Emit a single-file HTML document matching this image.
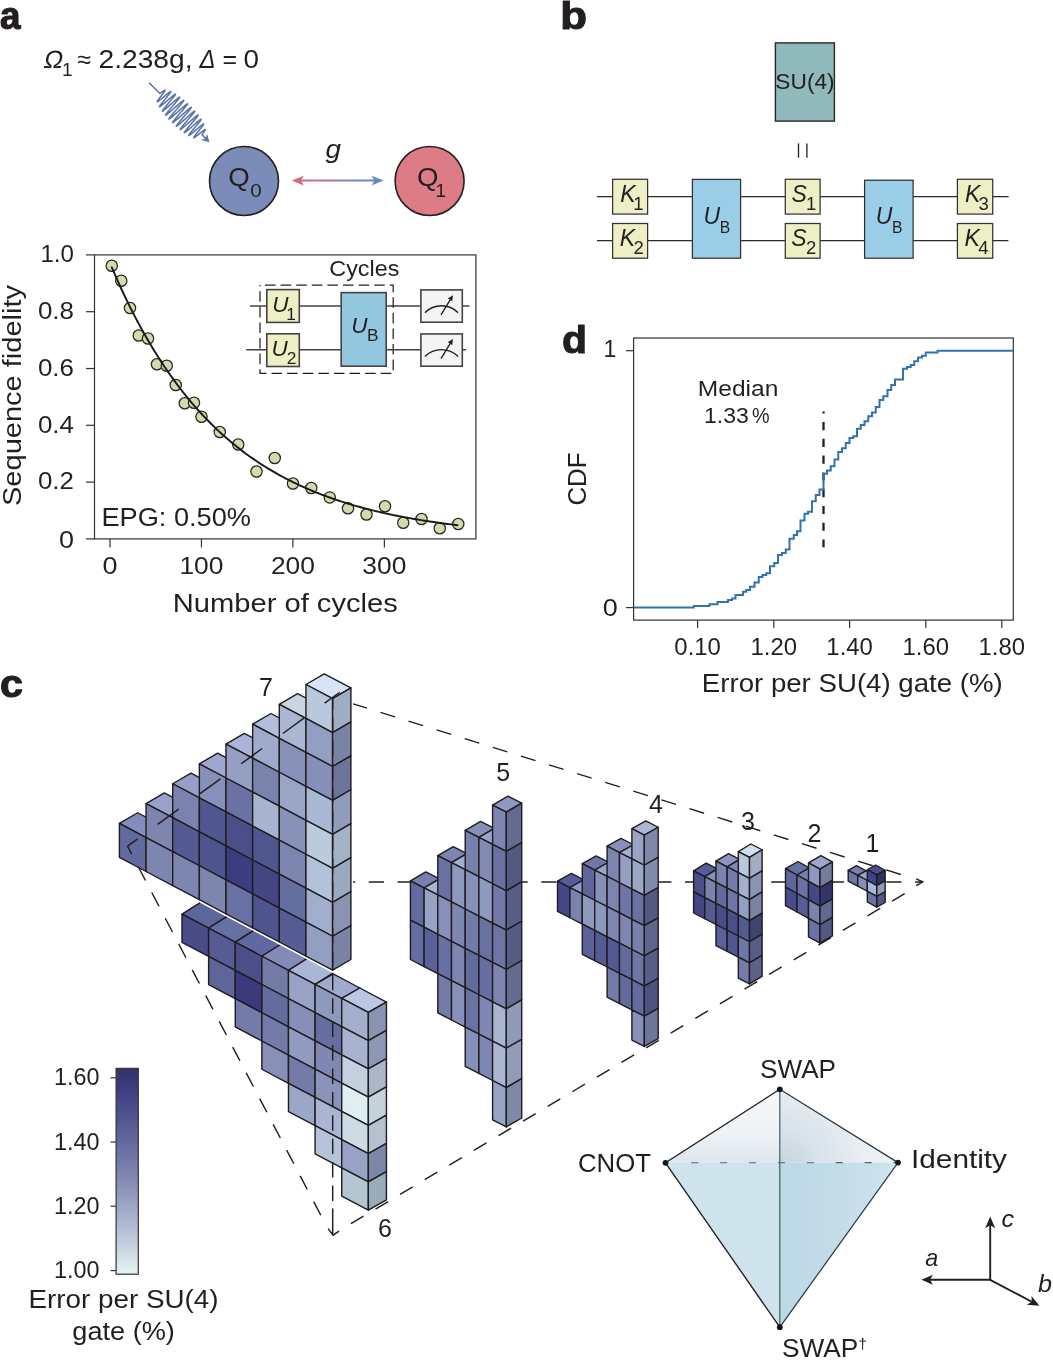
<!DOCTYPE html>
<html><head><meta charset="utf-8"><title>Figure</title>
<style>
html,body{margin:0;padding:0;background:#fff;}
body{width:1053px;height:1360px;overflow:hidden;font-family:"Liberation Sans", sans-serif;}
svg{display:block;font-family:"Liberation Sans", sans-serif;will-change:transform;}
text{fill:#231f20;}
</style></head><body>
<svg width="1053" height="1360" viewBox="0 0 1053 1360">
<defs>
<linearGradient id="garr" x1="292" y1="0" x2="383.5" y2="0" gradientUnits="userSpaceOnUse"><stop offset="0" stop-color="#dc6579"/><stop offset="0.3" stop-color="#c8718c"/><stop offset="0.55" stop-color="#8f7fad"/><stop offset="0.75" stop-color="#6f87bc"/><stop offset="1" stop-color="#6489c4"/></linearGradient>
<linearGradient id="cbar" x1="0" y1="1068" x2="0" y2="1274" gradientUnits="userSpaceOnUse"><stop offset="0" stop-color="#33336a"/><stop offset="0.07" stop-color="#38387c"/><stop offset="0.2" stop-color="#4a4e8e"/><stop offset="0.36" stop-color="#636a9f"/><stop offset="0.52" stop-color="#7f86b1"/><stop offset="0.67" stop-color="#9ca6c5"/><stop offset="0.83" stop-color="#bccada"/><stop offset="1" stop-color="#e4f4f3"/></linearGradient>
<linearGradient id="tu1" x1="0" y1="1089" x2="0" y2="1163" gradientUnits="userSpaceOnUse"><stop offset="0" stop-color="#f7f9fa"/><stop offset="0.6" stop-color="#eef2f5"/><stop offset="1" stop-color="#dce6ec"/></linearGradient>
<radialGradient id="tu2" cx="783" cy="1166" r="95" gradientUnits="userSpaceOnUse"><stop offset="0" stop-color="#c6d5df"/><stop offset="0.35" stop-color="#d6e1e9"/><stop offset="0.7" stop-color="#e4ebf0"/><stop offset="1" stop-color="#ecf1f4"/></radialGradient>
<linearGradient id="tl2" x1="779.8" y1="0" x2="898" y2="0" gradientUnits="userSpaceOnUse"><stop offset="0" stop-color="#bcd9e6"/><stop offset="0.45" stop-color="#c2dce8"/><stop offset="1" stop-color="#cfe4ee"/></linearGradient>
</defs>
<text x="0" y="29" font-size="38.5" font-weight="bold" stroke="#231f20" stroke-width="1.1" stroke-linejoin="round" textLength="20.5" lengthAdjust="spacingAndGlyphs">a</text>
<text x="0" y="0" font-size="25" textLength="19" lengthAdjust="spacingAndGlyphs" transform="translate(42.8 67.5) skewX(-11)">&#937;</text>
<text y="67.5" font-size="25"><tspan x="62" dy="8.5" font-size="19">1</tspan><tspan x="77.3" dy="-8.5">&#8776;</tspan><tspan x="98.5" textLength="94" lengthAdjust="spacingAndGlyphs">2.238g,</tspan><tspan x="199.5" font-style="italic" textLength="16" lengthAdjust="spacingAndGlyphs">&#916;</tspan><tspan x="222.5">=</tspan><tspan x="243.5" textLength="15.5" lengthAdjust="spacingAndGlyphs">0</tspan></text>
<polyline points="149.5,83.2 149.56,83.26 149.63,83.32 149.69,83.38 149.75,83.45 149.81,83.51 149.88,83.57 149.94,83.63 150,83.69 150.06,83.75 150.13,83.82 150.19,83.88 150.25,83.94 150.32,84 150.38,84.06 150.44,84.12 150.5,84.19 150.57,84.25 150.63,84.31 150.69,84.37 150.75,84.43 150.82,84.49 150.88,84.56 150.94,84.62 151,84.68 151.07,84.74 151.13,84.8 151.19,84.86 151.26,84.93 151.32,84.99 151.38,85.05 151.44,85.11 151.51,85.17 151.57,85.23 151.63,85.3 151.69,85.36 151.76,85.42 151.82,85.48 151.88,85.54 151.95,85.6 152.01,85.67 152.07,85.73 152.13,85.79 152.2,85.85 152.26,85.91 152.32,85.97 152.38,86.04 152.45,86.1 152.51,86.16 152.57,86.22 152.64,86.28 152.7,86.34 152.76,86.41 152.82,86.47 152.89,86.53 152.95,86.59 153.01,86.65 153.07,86.71 153.14,86.78 153.2,86.84 153.26,86.9 153.33,86.96 153.39,87.02 153.45,87.08 153.51,87.15 153.58,87.21 153.64,87.27 153.7,87.33 153.76,87.39 153.83,87.45 153.89,87.52 153.95,87.58 154.01,87.64 154.08,87.7 154.14,87.76 154.2,87.82 154.27,87.89 154.33,87.95 154.39,88.01 154.45,88.07 154.52,88.13 154.58,88.19 154.64,88.26 154.7,88.32 154.77,88.38 154.83,88.44 154.89,88.5 154.96,88.56 155.02,88.63 155.08,88.69 155.14,88.75 155.21,88.81 155.27,88.87 155.33,88.93 155.39,89 155.46,89.06 155.52,89.12 155.58,89.18 155.65,89.24 155.71,89.3 155.77,89.37 155.83,89.43 155.9,89.49 155.96,89.55 156.02,89.61 156.08,89.67 156.15,89.74 156.21,89.8 156.27,89.86 156.33,89.92 156.4,89.98 156.46,90.04 156.52,90.11 156.59,90.17 156.65,90.23 156.71,90.29 156.77,90.35 156.84,90.41 156.9,90.48 156.96,90.54 157.02,90.6 157.09,90.66 157.15,90.72 157.21,90.78 157.28,90.85 157.34,90.91 157.4,90.97 157.46,91.03 157.53,91.09 157.59,91.15 157.65,91.22 157.71,91.28 157.78,91.34 157.84,91.4 157.9,91.46 157.97,91.52 158.03,91.59 158.09,91.65 158.15,91.71 158.22,91.77 158.28,91.83 158.34,91.89 158.4,91.96 158.47,92.02 158.53,92.08 158.59,92.14 158.65,92.2 158.72,92.26 158.78,92.33 158.84,92.39 158.91,92.45 158.97,92.51 159.03,92.57 159.09,92.63 159.16,92.7 159.22,92.76 159.28,92.82 159.34,92.88 159.41,92.94 159.47,93 159.53,93.07 159.6,93.13 159.66,93.19 159.72,93.25 159.78,93.31 159.85,93.37 159.91,93.44 160.18,93.28 160.54,93.04 160.94,92.76 161.36,92.46 161.79,92.15 162.22,91.83 162.65,91.53 163.06,91.24 163.44,90.97 163.8,90.74 164.12,90.53 164.41,90.37 164.65,90.25 164.84,90.18 164.98,90.16 165.08,90.19 165.12,90.27 165.1,90.42 165.03,90.61 164.9,90.86 164.73,91.17 164.5,91.52 164.23,91.93 163.91,92.38 163.56,92.86 163.16,93.39 162.74,93.94 162.3,94.52 161.84,95.11 161.37,95.72 160.89,96.33 160.41,96.94 159.95,97.53 159.5,98.12 159.07,98.68 158.67,99.21 158.31,99.71 157.98,100.16 157.7,100.57 157.48,100.93 157.3,101.23 157.19,101.47 157.13,101.65 157.14,101.77 157.22,101.82 157.36,101.8 157.56,101.72 157.83,101.57 158.16,101.36 158.55,101.09 159,100.76 159.5,100.38 160.04,99.95 160.63,99.47 161.26,98.96 161.91,98.42 162.59,97.86 163.29,97.27 163.99,96.68 164.7,96.09 165.4,95.51 166.08,94.94 166.74,94.39 167.38,93.87 167.98,93.38 168.53,92.94 169.04,92.55 169.5,92.22 169.89,91.94 170.22,91.73 170.49,91.59 170.68,91.51 170.8,91.52 170.85,91.59 170.82,91.74 170.73,91.97 170.56,92.27 170.32,92.64 170.01,93.07 169.64,93.57 169.22,94.13 168.74,94.74 168.21,95.4 167.65,96.1 167.05,96.84 166.43,97.59 165.79,98.37 165.14,99.15 164.49,99.94 163.85,100.72 163.22,101.48 162.62,102.22 162.05,102.92 161.52,103.59 161.04,104.21 160.61,104.77 160.23,105.27 159.93,105.71 159.69,106.08 159.53,106.37 159.44,106.58 159.43,106.72 159.5,106.77 159.65,106.74 159.88,106.63 160.19,106.45 160.57,106.18 161.03,105.85 161.55,105.44 162.13,104.97 162.77,104.45 163.46,103.87 164.2,103.25 164.97,102.59 165.76,101.9 166.58,101.2 167.41,100.49 168.23,99.77 169.05,99.06 169.86,98.37 170.64,97.7 171.38,97.07 172.08,96.48 172.74,95.94 173.33,95.46 173.87,95.04 174.33,94.7 174.73,94.42 175.04,94.23 175.27,94.12 175.42,94.09 175.49,94.15 175.47,94.29 175.37,94.52 175.18,94.84 174.92,95.23 174.58,95.7 174.16,96.25 173.68,96.86 173.14,97.54 172.55,98.27 171.91,99.04 171.23,99.86 170.52,100.71 169.79,101.57 169.05,102.45 168.31,103.33 167.57,104.21 166.85,105.07 166.16,105.9 165.5,106.69 164.88,107.45 164.31,108.15 163.81,108.79 163.36,109.36 162.99,109.87 162.7,110.29 162.48,110.64 162.35,110.89 162.31,111.06 162.36,111.14 162.49,111.13 162.71,111.03 163.02,110.84 163.41,110.57 163.89,110.21 164.43,109.78 165.05,109.28 165.73,108.71 166.47,108.08 167.26,107.41 168.09,106.69 168.95,105.94 169.84,105.16 170.74,104.38 171.64,103.58 172.53,102.8 173.41,102.03 174.27,101.29 175.09,100.58 175.86,99.92 176.59,99.3 177.25,98.75 177.85,98.27 178.37,97.86 178.82,97.53 179.18,97.29 179.46,97.13 179.65,97.07 179.74,97.1 179.75,97.22 179.66,97.43 179.48,97.74 179.22,98.13 178.87,98.61 178.45,99.17 177.95,99.8 177.38,100.5 176.75,101.27 176.07,102.08 175.35,102.94 174.6,103.84 173.82,104.76 173.02,105.69 172.22,106.63 171.42,107.57 170.64,108.49 169.88,109.38 169.16,110.24 168.48,111.06 167.85,111.82 167.28,112.53 166.78,113.16 166.36,113.72 166.01,114.2 165.75,114.59 165.58,114.89 165.5,115.1 165.51,115.21 165.62,115.22 165.82,115.15 166.11,114.97 166.49,114.71 166.96,114.36 167.51,113.92 168.14,113.41 168.84,112.83 169.59,112.18 170.41,111.48 171.27,110.73 172.16,109.95 173.08,109.14 174.02,108.31 174.97,107.47 175.91,106.64 176.84,105.82 177.75,105.02 178.62,104.26 179.45,103.54 180.23,102.88 180.94,102.27 181.59,101.74 182.17,101.28 182.66,100.9 183.07,100.61 183.39,100.41 183.62,100.31 183.75,100.3 183.78,100.39 183.72,100.58 183.56,100.86 183.32,101.24 182.98,101.71 182.56,102.26 182.06,102.89 181.49,103.6 180.86,104.37 180.17,105.2 179.43,106.07 178.65,106.99 177.84,107.94 177.02,108.9 176.18,109.88 175.35,110.85 174.53,111.81 173.73,112.75 172.96,113.65 172.24,114.51 171.57,115.32 170.95,116.07 170.41,116.75 169.94,117.36 169.55,117.88 169.24,118.31 169.03,118.65 168.91,118.9 168.89,119.05 168.96,119.1 169.13,119.05 169.4,118.9 169.76,118.66 170.21,118.33 170.75,117.91 171.36,117.41 172.06,116.83 172.81,116.19 173.63,115.48 174.49,114.73 175.4,113.93 176.34,113.1 177.3,112.25 178.27,111.39 179.23,110.53 180.19,109.68 181.13,108.86 182.04,108.06 182.9,107.31 183.72,106.6 184.47,105.96 185.16,105.38 185.78,104.88 186.31,104.47 186.76,104.14 187.11,103.9 187.38,103.76 187.54,103.71 187.61,103.77 187.58,103.92 187.46,104.18 187.24,104.53 186.92,104.97 186.52,105.5 186.04,106.12 185.49,106.81 184.86,107.57 184.18,108.39 183.44,109.27 182.66,110.18 181.85,111.14 181.01,112.11 180.17,113.1 179.32,114.09 178.48,115.07 177.66,116.02 176.87,116.95 176.12,117.84 175.41,118.68 174.77,119.46 174.19,120.18 173.69,120.82 173.26,121.37 172.92,121.85 172.67,122.22 172.52,122.51 172.46,122.69 172.5,122.78 172.64,122.76 172.87,122.65 173.2,122.44 173.62,122.14 174.13,121.74 174.73,121.26 175.4,120.71 176.14,120.08 176.94,119.39 177.79,118.65 178.69,117.86 179.62,117.04 180.58,116.19 181.55,115.33 182.53,114.46 183.49,113.6 184.44,112.76 185.36,111.95 186.25,111.18 187.08,110.45 187.86,109.78 188.58,109.18 189.22,108.65 189.79,108.21 190.27,107.84 190.66,107.57 190.95,107.39 191.16,107.32 191.26,107.34 191.26,107.46 191.17,107.67 190.99,107.99 190.71,108.4 190.34,108.9 189.89,109.48 189.36,110.15 188.76,110.88 188.09,111.68 187.38,112.54 186.62,113.44 185.82,114.38 184.99,115.34 184.15,116.32 183.31,117.3 182.47,118.28 181.65,119.24 180.85,120.18 180.09,121.08 179.37,121.93 178.71,122.73 178.11,123.46 177.59,124.13 177.14,124.71 176.77,125.21 176.49,125.62 176.3,125.93 176.21,126.15 176.22,126.27 176.32,126.29 176.52,126.21 176.81,126.04 177.2,125.77 177.67,125.42 178.23,124.97 178.87,124.45 179.58,123.86 180.35,123.2 181.17,122.49 182.05,121.72 182.95,120.92 183.89,120.1 184.85,119.25 185.81,118.4 186.76,117.55 187.71,116.72 188.62,115.91 189.51,115.14 190.35,114.41 191.14,113.73 191.87,113.12 192.52,112.57 193.11,112.1 193.61,111.72 194.02,111.42 194.35,111.22 194.58,111.11 194.72,111.09 194.76,111.18 194.7,111.36 194.55,111.64 194.31,112.01 193.99,112.46 193.57,113.01 193.08,113.63 192.52,114.33 191.9,115.09 191.22,115.91 190.49,116.77 189.73,117.68 188.93,118.61 188.12,119.56 187.3,120.52 186.48,121.48 185.67,122.42 184.89,123.35 184.14,124.24 183.43,125.08 182.77,125.88 182.17,126.62 181.63,127.29 181.17,127.88 180.79,128.4 180.49,128.83 180.28,129.17 180.16,129.41 180.13,129.57 180.2,129.62 180.36,129.58 180.61,129.45 180.96,129.22 181.39,128.91 181.9,128.51 182.5,128.04 183.16,127.49 183.88,126.88 184.66,126.21 185.49,125.49 186.36,124.73 187.26,123.95 188.17,123.14 189.1,122.33 190.03,121.51 190.94,120.7 191.83,119.92 192.7,119.17 193.52,118.45 194.3,117.79 195.02,117.18 195.68,116.64 196.27,116.16 196.78,115.77 197.21,115.46 197.55,115.23 197.81,115.1 197.97,115.06 198.05,115.11 198.03,115.25 197.92,115.49 197.72,115.81 197.44,116.22 197.08,116.72 196.64,117.29 196.13,117.93 195.56,118.64 194.93,119.4 194.26,120.22 193.54,121.07 192.8,121.95 192.04,122.85 191.26,123.76 190.49,124.68 189.72,125.58 188.97,126.47 188.25,127.33 187.57,128.15 186.93,128.92 186.35,129.64 185.82,130.3 185.36,130.89 184.98,131.41 184.68,131.84 184.45,132.19 184.31,132.46 184.26,132.64 184.3,132.72 184.43,132.72 184.64,132.63 184.94,132.45 185.32,132.19 185.78,131.84 186.32,131.43 186.92,130.94 187.59,130.39 188.31,129.78 189.07,129.13 189.88,128.43 190.71,127.71 191.56,126.97 192.43,126.21 193.3,125.45 194.16,124.7 195.01,123.97 195.83,123.26 196.61,122.59 197.35,121.96 198.05,121.38 198.68,120.86 199.25,120.4 199.75,120.02 200.18,119.71 200.53,119.48 200.8,119.33 200.98,119.27 201.08,119.3 201.1,119.41 201.03,119.6 200.88,119.88 200.65,120.24 200.34,120.68 199.97,121.18 199.52,121.76 199.02,122.4 198.47,123.09 197.87,123.82 197.23,124.6 196.56,125.4 195.87,126.22 195.17,127.06 194.47,127.9 193.77,128.73 193.09,129.55 192.43,130.35 191.81,131.11 191.22,131.83 190.68,132.51 190.19,133.13 189.77,133.69 189.4,134.18 189.11,134.6 188.9,134.95 188.75,135.22 188.69,135.41 188.71,135.52 188.8,135.54 188.98,135.49 189.23,135.36 189.56,135.15 189.96,134.87 190.43,134.52 190.96,134.11 191.54,133.64 192.17,133.12 192.85,132.56 193.57,131.96 194.31,131.33 195.07,130.68 195.84,130.02 196.61,129.36 197.38,128.7 198.14,128.06 198.88,127.43 199.58,126.84 200.25,126.28 200.88,125.77 201.46,125.31 201.98,124.91 202.44,124.56 202.84,124.28 203.17,124.07 203.43,123.94 203.61,123.87 203.72,123.89 203.76,123.97 203.73,124.13 203.62,124.36 203.45,124.67 203.21,125.04 202.91,125.47 202.55,125.96 202.14,126.5 201.69,127.08 201.2,127.71 200.67,128.37 200.12,129.05 199.55,129.76 198.97,130.47 198.39,131.19 197.82,131.9 197.26,132.59 196.72,133.27 196.2,133.92 195.72,134.53 195.28,135.11 194.88,135.64 194.53,136.12 194.24,136.54 194.01,136.9 193.83,137.2 193.72,137.44 193.68,137.61 193.7,137.72 193.78,137.76 193.93,137.73 194.14,137.64 194.42,137.49 194.74,137.28 195.12,137.02 195.55,136.71 196.02,136.36 196.53,135.96 197.07,135.54 197.64,135.09 198.22,134.62 198.82,134.14 199.42,133.65 200.02,133.17 200.62,132.69 201.19,132.23 201.75,131.78 202.28,131.37 202.78,130.99 203.24,130.64 203.66,130.34 204.04,130.09 204.36,129.88 204.64,129.73 204.86,129.63 205.03,129.58 205.14,129.59 205.2,129.66 205.21,129.78 205.16,129.95 205.07,130.17 204.93,130.44 204.75,130.75 204.53,131.09 204.28,131.47 204.01,131.87 203.72,132.29 203.42,132.72 203.11,133.16 202.81,133.59 202.52,134.01 202.27,134.4 202.06,134.73 202.05,134.87 202.11,134.93 202.17,134.99 202.24,135.06 202.3,135.12 202.36,135.18 202.42,135.24 202.49,135.3 202.55,135.36 202.61,135.43 202.67,135.49 202.74,135.55 202.8,135.61 202.86,135.67 202.93,135.73 202.99,135.8 203.05,135.86 203.11,135.92 203.18,135.98 203.24,136.04 203.3,136.1 203.36,136.17 203.43,136.23 203.49,136.29 203.55,136.35 203.61,136.41 203.68,136.47 203.74,136.54 203.8,136.6 203.87,136.66 203.93,136.72 203.99,136.78 204.05,136.84 204.12,136.91 204.18,136.97 204.24,137.03 204.3,137.09 204.37,137.15 204.43,137.21 204.49,137.28 204.56,137.34 204.62,137.4 204.68,137.46 204.74,137.52 204.81,137.58 204.87,137.65 204.93,137.71 204.99,137.77 205.06,137.83 205.12,137.89 205.18,137.95 205.25,138.02 205.31,138.08 205.37,138.14 205.43,138.2 205.5,138.26 205.56,138.32 205.62,138.39 205.68,138.45 205.75,138.51 205.81,138.57 205.87,138.63 205.93,138.69" fill="none" stroke="#5a73a8" stroke-width="1.5" stroke-linejoin="round" stroke-linecap="round"/>
<polygon points="209.5,142.2 201.21,139.94 205.58,138.34 207.1,133.95" fill="#5a73a8"/>
<circle cx="244" cy="181" r="34.5" fill="#7b8cb8" stroke="#231f20" stroke-width="1.6"/>
<circle cx="429.6" cy="181" r="34.5" fill="#dd7b86" stroke="#231f20" stroke-width="1.6"/>
<text y="186.3" font-size="25"><tspan x="228.3" textLength="21.5" lengthAdjust="spacingAndGlyphs">Q</tspan><tspan x="250.3" dy="10.2" font-size="19" textLength="11.5" lengthAdjust="spacingAndGlyphs">0</tspan></text>
<text y="186.3" font-size="25"><tspan x="417" textLength="21.5" lengthAdjust="spacingAndGlyphs">Q</tspan><tspan x="435.6" dy="10.2" font-size="19">1</tspan></text>
<path d="M291.8 180.6 L303.8 175.8 L301.6 179.6 L373.8 179.6 L371.6 175.8 L383.6 180.6 L371.6 185.4 L373.8 181.6 L301.6 181.6 L303.8 185.4 Z" fill="url(#garr)"/>
<text x="325.6" y="158.2" font-size="25" textLength="15.5" lengthAdjust="spacingAndGlyphs" font-style="italic">g</text>
<rect x="94.5" y="254.9" width="381.4" height="284" fill="none" stroke="#333" stroke-width="1.2"/>
<line x1="86" y1="538.9" x2="94.5" y2="538.9" stroke="#333" stroke-width="1.2"/>
<text x="74" y="548" font-size="23" text-anchor="end" textLength="15" lengthAdjust="spacingAndGlyphs">0</text>
<line x1="86" y1="482.1" x2="94.5" y2="482.1" stroke="#333" stroke-width="1.2"/>
<text x="73.9" y="489.4" font-size="23" text-anchor="end" textLength="36" lengthAdjust="spacingAndGlyphs">0.2</text>
<line x1="86" y1="425.3" x2="94.5" y2="425.3" stroke="#333" stroke-width="1.2"/>
<text x="73.9" y="432.6" font-size="23" text-anchor="end" textLength="36" lengthAdjust="spacingAndGlyphs">0.4</text>
<line x1="86" y1="368.5" x2="94.5" y2="368.5" stroke="#333" stroke-width="1.2"/>
<text x="73.9" y="375.8" font-size="23" text-anchor="end" textLength="36" lengthAdjust="spacingAndGlyphs">0.6</text>
<line x1="86" y1="311.7" x2="94.5" y2="311.7" stroke="#333" stroke-width="1.2"/>
<text x="73.9" y="319" font-size="23" text-anchor="end" textLength="36" lengthAdjust="spacingAndGlyphs">0.8</text>
<line x1="86" y1="254.9" x2="94.5" y2="254.9" stroke="#333" stroke-width="1.2"/>
<text x="73.9" y="262.2" font-size="23" text-anchor="end" textLength="33.5" lengthAdjust="spacingAndGlyphs">1.0</text>
<line x1="110" y1="538.9" x2="110" y2="547.4" stroke="#333" stroke-width="1.2"/>
<text x="110" y="574.1" font-size="23" text-anchor="middle" textLength="15" lengthAdjust="spacingAndGlyphs">0</text>
<line x1="201.45" y1="538.9" x2="201.45" y2="547.4" stroke="#333" stroke-width="1.2"/>
<text x="201.45" y="574.1" font-size="23" text-anchor="middle" textLength="44" lengthAdjust="spacingAndGlyphs">100</text>
<line x1="292.9" y1="538.9" x2="292.9" y2="547.4" stroke="#333" stroke-width="1.2"/>
<text x="292.9" y="574.1" font-size="23" text-anchor="middle" textLength="44" lengthAdjust="spacingAndGlyphs">200</text>
<line x1="384.35" y1="538.9" x2="384.35" y2="547.4" stroke="#333" stroke-width="1.2"/>
<text x="384.35" y="574.1" font-size="23" text-anchor="middle" textLength="44" lengthAdjust="spacingAndGlyphs">300</text>
<text x="21" y="395.5" font-size="25" text-anchor="middle" textLength="221" lengthAdjust="spacingAndGlyphs" transform="rotate(-90 21 395.5)">Sequence fidelity</text>
<text x="285.3" y="612.3" font-size="25" text-anchor="middle" textLength="225" lengthAdjust="spacingAndGlyphs">Number of cycles</text>
<text x="101.5" y="526" font-size="25" textLength="149.5" lengthAdjust="spacingAndGlyphs">EPG: 0.50%</text>
<circle cx="111.75" cy="265.75" r="5.65" fill="#d6d8ad" stroke="#2a271f" stroke-width="1.25"/>
<circle cx="121.25" cy="280.75" r="5.65" fill="#d6d8ad" stroke="#2a271f" stroke-width="1.25"/>
<circle cx="130" cy="308" r="5.65" fill="#d6d8ad" stroke="#2a271f" stroke-width="1.25"/>
<circle cx="138.75" cy="335.5" r="5.65" fill="#d6d8ad" stroke="#2a271f" stroke-width="1.25"/>
<circle cx="148" cy="338.5" r="5.65" fill="#d6d8ad" stroke="#2a271f" stroke-width="1.25"/>
<circle cx="157" cy="364.25" r="5.65" fill="#d6d8ad" stroke="#2a271f" stroke-width="1.25"/>
<circle cx="166.75" cy="365.75" r="5.65" fill="#d6d8ad" stroke="#2a271f" stroke-width="1.25"/>
<circle cx="175.75" cy="385" r="5.65" fill="#d6d8ad" stroke="#2a271f" stroke-width="1.25"/>
<circle cx="184.75" cy="403.25" r="5.65" fill="#d6d8ad" stroke="#2a271f" stroke-width="1.25"/>
<circle cx="194" cy="402.75" r="5.65" fill="#d6d8ad" stroke="#2a271f" stroke-width="1.25"/>
<circle cx="201.5" cy="416.75" r="5.65" fill="#d6d8ad" stroke="#2a271f" stroke-width="1.25"/>
<circle cx="219.75" cy="432" r="5.65" fill="#d6d8ad" stroke="#2a271f" stroke-width="1.25"/>
<circle cx="238.25" cy="444.5" r="5.65" fill="#d6d8ad" stroke="#2a271f" stroke-width="1.25"/>
<circle cx="256.5" cy="471.5" r="5.65" fill="#d6d8ad" stroke="#2a271f" stroke-width="1.25"/>
<circle cx="274.75" cy="458" r="5.65" fill="#d6d8ad" stroke="#2a271f" stroke-width="1.25"/>
<circle cx="293" cy="483.5" r="5.65" fill="#d6d8ad" stroke="#2a271f" stroke-width="1.25"/>
<circle cx="311.25" cy="488" r="5.65" fill="#d6d8ad" stroke="#2a271f" stroke-width="1.25"/>
<circle cx="329.75" cy="497.4" r="5.65" fill="#d6d8ad" stroke="#2a271f" stroke-width="1.25"/>
<circle cx="348" cy="508.25" r="5.65" fill="#d6d8ad" stroke="#2a271f" stroke-width="1.25"/>
<circle cx="366.5" cy="514.5" r="5.65" fill="#d6d8ad" stroke="#2a271f" stroke-width="1.25"/>
<circle cx="385" cy="506.25" r="5.65" fill="#d6d8ad" stroke="#2a271f" stroke-width="1.25"/>
<circle cx="403.25" cy="522.75" r="5.65" fill="#d6d8ad" stroke="#2a271f" stroke-width="1.25"/>
<circle cx="421.5" cy="519" r="5.65" fill="#d6d8ad" stroke="#2a271f" stroke-width="1.25"/>
<circle cx="439.75" cy="528.25" r="5.65" fill="#d6d8ad" stroke="#2a271f" stroke-width="1.25"/>
<circle cx="458.25" cy="524" r="5.65" fill="#d6d8ad" stroke="#2a271f" stroke-width="1.25"/>
<polyline points="111.83,267.46 113.56,271.48 115.29,275.44 117.01,279.35 118.74,283.2 120.47,286.99 122.2,290.72 123.93,294.4 125.66,298.02 127.38,301.59 129.11,305.11 130.84,308.57 132.57,311.99 134.3,315.35 136.03,318.66 137.76,321.93 139.48,325.14 141.21,328.31 142.94,331.43 144.67,334.5 146.4,337.53 148.13,340.52 149.85,343.46 151.58,346.35 153.31,349.21 155.04,352.02 156.77,354.79 158.5,357.52 160.22,360.21 161.95,362.85 163.68,365.46 165.41,368.03 167.14,370.57 168.87,373.06 170.59,375.52 172.32,377.94 174.05,380.32 175.78,382.67 177.51,384.99 179.24,387.27 180.97,389.52 182.69,391.73 184.42,393.91 186.15,396.06 187.88,398.18 189.61,400.26 191.34,402.32 193.06,404.34 194.79,406.34 196.52,408.3 198.25,410.24 199.98,412.14 201.71,414.02 203.43,415.87 205.16,417.7 206.89,419.49 208.62,421.26 210.35,423.01 212.08,424.72 213.8,426.42 215.53,428.08 217.26,429.72 218.99,431.34 220.72,432.94 222.45,434.51 224.18,436.05 225.9,437.58 227.63,439.08 229.36,440.56 231.09,442.02 232.82,443.45 234.55,444.87 236.27,446.26 238,447.63 239.73,448.99 241.46,450.32 243.19,451.63 244.92,452.92 246.64,454.2 248.37,455.45 250.1,456.69 251.83,457.91 253.56,459.11 255.29,460.29 257.02,461.46 258.74,462.6 260.47,463.74 262.2,464.85 263.93,465.95 265.66,467.03 267.39,468.09 269.11,469.14 270.84,470.18 272.57,471.19 274.3,472.2 276.03,473.19 277.76,474.16 279.48,475.12 281.21,476.07 282.94,477 284.67,477.91 286.4,478.82 288.13,479.71 289.85,480.59 291.58,481.45 293.31,482.3 295.04,483.14 296.77,483.97 298.5,484.78 300.23,485.58 301.95,486.37 303.68,487.15 305.41,487.92 307.14,488.67 308.87,489.42 310.6,490.15 312.32,490.87 314.05,491.59 315.78,492.29 317.51,492.98 319.24,493.66 320.97,494.33 322.69,494.99 324.42,495.64 326.15,496.28 327.88,496.91 329.61,497.53 331.34,498.15 333.06,498.75 334.79,499.35 336.52,499.93 338.25,500.51 339.98,501.08 341.71,501.64 343.44,502.19 345.16,502.74 346.89,503.27 348.62,503.8 350.35,504.32 352.08,504.83 353.81,505.34 355.53,505.84 357.26,506.33 358.99,506.81 360.72,507.28 362.45,507.75 364.18,508.21 365.9,508.67 367.63,509.12 369.36,509.56 371.09,509.99 372.82,510.42 374.55,510.84 376.27,511.26 378,511.67 379.73,512.07 381.46,512.47 383.19,512.86 384.92,513.25 386.65,513.63 388.37,514 390.1,514.37 391.83,514.73 393.56,515.09 395.29,515.45 397.02,515.79 398.74,516.14 400.47,516.47 402.2,516.81 403.93,517.13 405.66,517.46 407.39,517.77 409.11,518.09 410.84,518.39 412.57,518.7 414.3,519 416.03,519.29 417.76,519.58 419.49,519.87 421.21,520.15 422.94,520.43 424.67,520.7 426.4,520.97 428.13,521.24 429.86,521.5 431.58,521.76 433.31,522.01 435.04,522.26 436.77,522.51 438.5,522.75 440.23,522.99 441.95,523.23 443.68,523.46 445.41,523.69 447.14,523.91 448.87,524.14 450.6,524.35 452.32,524.57 454.05,524.78 455.78,524.99 457.51,525.2" fill="none" stroke="#1d1a1b" stroke-width="1.95" stroke-linecap="round"/>
<text x="364.3" y="275.8" font-size="22" text-anchor="middle" textLength="70" lengthAdjust="spacingAndGlyphs">Cycles</text>
<line x1="250" y1="306" x2="469.5" y2="306" stroke="#454242" stroke-width="1.6"/>
<line x1="246.2" y1="349.8" x2="466.1" y2="349.8" stroke="#454242" stroke-width="1.6"/>
<rect x="260" y="285" width="133.2" height="88.3" fill="none" stroke="#222" stroke-width="1.25" stroke-dasharray="10.6 5" stroke-dashoffset="10.6"/>
<rect x="266.8" y="289.6" width="32.5" height="32.8" fill="#eeefc5" stroke="#454242" stroke-width="1.6"/>
<rect x="266.8" y="333.8" width="32.5" height="32.7" fill="#eeefc5" stroke="#454242" stroke-width="1.6"/>
<rect x="341.2" y="292.6" width="45" height="73.6" fill="#93c6df" stroke="#454242" stroke-width="1.6"/>
<rect x="420.9" y="289.9" width="41.4" height="32.3" fill="#f3f5f4" stroke="#454242" stroke-width="1.6"/>
<rect x="420.9" y="333.95" width="41.4" height="32.25" fill="#f3f5f4" stroke="#454242" stroke-width="1.6"/>
<text y="312.4" font-size="22.5"><tspan x="272.2" font-style="italic">U</tspan><tspan x="286.2" dy="8" font-size="17.3">1</tspan></text>
<text y="356.1" font-size="22.5"><tspan x="271.6" font-style="italic">U</tspan><tspan x="286.8" dy="8.3" font-size="17.3">2</tspan></text>
<text y="333.2" font-size="22.5"><tspan x="351.2" font-style="italic">U</tspan><tspan x="367" dy="8" font-size="17.3">B</tspan></text>
<path d="M424.9 312.7 A23.4 23.4 0 0 1 458.1 312.7" fill="none" stroke="#231f20" stroke-width="1.35"/>
<line x1="441" y1="314.8" x2="450.6" y2="299.1" stroke="#231f20" stroke-width="1.35"/>
<polygon points="453,295.2 447.6,298.4 450.3,299.6 452.2,301.4" fill="#231f20"/>
<path d="M424.9 356.5 A23.4 23.4 0 0 1 458.1 356.5" fill="none" stroke="#231f20" stroke-width="1.35"/>
<line x1="441" y1="358.6" x2="450.6" y2="342.9" stroke="#231f20" stroke-width="1.35"/>
<polygon points="453,339 447.6,342.2 450.3,343.4 452.2,345.2" fill="#231f20"/>
<text x="560.3" y="29" font-size="38.5" font-weight="bold" stroke="#231f20" stroke-width="1.1" stroke-linejoin="round" textLength="26.8" lengthAdjust="spacingAndGlyphs">b</text>
<rect x="775.4" y="42.9" width="59" height="78.2" fill="#8fb9ba" stroke="#2b2728" stroke-width="1.4"/>
<text x="805" y="88.9" font-size="22.6" text-anchor="middle" textLength="59.3" lengthAdjust="spacingAndGlyphs">SU(4)</text>
<line x1="798.5" y1="143.4" x2="798.5" y2="157.7" stroke="#231f20" stroke-width="1.3"/>
<line x1="806.9" y1="143.4" x2="806.9" y2="157.7" stroke="#231f20" stroke-width="1.3"/>
<line x1="597" y1="196.6" x2="1008.6" y2="196.6" stroke="#2a2a2a" stroke-width="1.3"/>
<line x1="597" y1="240.7" x2="1008.4" y2="240.7" stroke="#2a2a2a" stroke-width="1.3"/>
<rect x="612.6" y="179.3" width="35" height="34.8" fill="#eeefc5" stroke="#333" stroke-width="1.25"/>
<rect x="612.6" y="223.5" width="35" height="34.7" fill="#eeefc5" stroke="#333" stroke-width="1.25"/>
<text y="202" font-size="23"><tspan x="620.2" font-style="italic">K</tspan><tspan x="633.2" dy="7.8" font-size="18.5">1</tspan></text>
<text y="246" font-size="23"><tspan x="619.8" font-style="italic">K</tspan><tspan x="633.4" dy="7.8" font-size="18.5">2</tspan></text>
<rect x="785.3" y="179.3" width="34.8" height="34.8" fill="#eeefc5" stroke="#333" stroke-width="1.25"/>
<rect x="785.3" y="223.5" width="34.8" height="34.7" fill="#eeefc5" stroke="#333" stroke-width="1.25"/>
<text y="202" font-size="23"><tspan x="791.6" font-style="italic">S</tspan><tspan x="805.9" dy="7.8" font-size="18.5">1</tspan></text>
<text y="246" font-size="23"><tspan x="791.2" font-style="italic">S</tspan><tspan x="806.1" dy="7.8" font-size="18.5">2</tspan></text>
<rect x="957.4" y="179.3" width="35.3" height="34.8" fill="#eeefc5" stroke="#333" stroke-width="1.25"/>
<rect x="957.4" y="223.5" width="35.3" height="34.7" fill="#eeefc5" stroke="#333" stroke-width="1.25"/>
<text y="202" font-size="23"><tspan x="965" font-style="italic">K</tspan><tspan x="978.4" dy="7.8" font-size="18.5">3</tspan></text>
<text y="246" font-size="23"><tspan x="964.6" font-style="italic">K</tspan><tspan x="978.2" dy="7.8" font-size="18.5">4</tspan></text>
<rect x="692.4" y="179.4" width="48.2" height="78.8" fill="#9acde8" stroke="#333" stroke-width="1.25"/>
<text y="224.4" font-size="23"><tspan x="703.6" font-style="italic">U</tspan><tspan x="719.8" dy="8.2" font-size="15.7">B</tspan></text>
<rect x="864.6" y="180.2" width="48.5" height="78" fill="#9acde8" stroke="#333" stroke-width="1.25"/>
<text y="224.4" font-size="23"><tspan x="875.8" font-style="italic">U</tspan><tspan x="892" dy="8.2" font-size="15.7">B</tspan></text>
<text x="562" y="353" font-size="38.5" font-weight="bold" stroke="#231f20" stroke-width="1.1" stroke-linejoin="round" textLength="25" lengthAdjust="spacingAndGlyphs">d</text>
<rect x="633.6" y="338" width="379.7" height="282.1" fill="none" stroke="#333" stroke-width="1.2"/>
<line x1="626" y1="350.7" x2="633.6" y2="350.7" stroke="#333" stroke-width="1.2"/>
<line x1="626" y1="607.6" x2="633.6" y2="607.6" stroke="#333" stroke-width="1.2"/>
<text x="616.3" y="356.9" font-size="23" text-anchor="end">1</text>
<text x="617.8" y="616" font-size="23" text-anchor="end" textLength="15" lengthAdjust="spacingAndGlyphs">0</text>
<line x1="697.6" y1="620.1" x2="697.6" y2="628.1" stroke="#333" stroke-width="1.2"/>
<text x="697.6" y="655.2" font-size="23" text-anchor="middle" textLength="46.5" lengthAdjust="spacingAndGlyphs">0.10</text>
<line x1="773.8" y1="620.1" x2="773.8" y2="628.1" stroke="#333" stroke-width="1.2"/>
<text x="773.8" y="655.2" font-size="23" text-anchor="middle" textLength="46.5" lengthAdjust="spacingAndGlyphs">1.20</text>
<line x1="849.6" y1="620.1" x2="849.6" y2="628.1" stroke="#333" stroke-width="1.2"/>
<text x="849.6" y="655.2" font-size="23" text-anchor="middle" textLength="46.5" lengthAdjust="spacingAndGlyphs">1.40</text>
<line x1="925.8" y1="620.1" x2="925.8" y2="628.1" stroke="#333" stroke-width="1.2"/>
<text x="925.8" y="655.2" font-size="23" text-anchor="middle" textLength="46.5" lengthAdjust="spacingAndGlyphs">1.60</text>
<line x1="1001.8" y1="620.1" x2="1001.8" y2="628.1" stroke="#333" stroke-width="1.2"/>
<text x="1001.8" y="655.2" font-size="23" text-anchor="middle" textLength="46.5" lengthAdjust="spacingAndGlyphs">1.80</text>
<text x="586" y="479" font-size="25" text-anchor="middle" textLength="53" lengthAdjust="spacingAndGlyphs" transform="rotate(-90 586 479)">CDF</text>
<text x="852.3" y="692" font-size="25" text-anchor="middle" textLength="301" lengthAdjust="spacingAndGlyphs">Error per SU(4) gate (%)</text>
<text x="738.1" y="395.7" font-size="22" text-anchor="middle" textLength="80.5" lengthAdjust="spacingAndGlyphs">Median</text>
<text x="704" y="422.7" font-size="22" textLength="44.8" lengthAdjust="spacingAndGlyphs">1.33</text>
<text x="752" y="422.7" font-size="22" textLength="17.6" lengthAdjust="spacingAndGlyphs">%</text>
<line x1="823.5" y1="411.5" x2="823.5" y2="547.2" stroke="#231f20" stroke-width="2.3" stroke-dasharray="8.2 8.56" stroke-dashoffset="6.16"/>
<polyline points="633.75,607.5 693.75,607.5 693.75,606 709.5,606 709.5,604.25 717.5,604.25 717.5,602 728,602 728,600 732,600 732,598.5 735.5,598.5 735.5,595 743,595 743,591.75 746.25,591.75 746.25,590 750,590 750,586.75 754.5,586.75 754.5,582.5 758.75,582.5 758.75,577 762.5,577 762.5,575 766.25,575 766.25,573.25 770,573.25 770,566.25 774.25,566.25 774.25,563 778,563 778,555 782,555 782,553 785.75,553 785.75,549.5 789.5,549.5 789.5,538.75 793.75,538.75 793.75,535 797,535 797,531.25 800.5,531.25 800.5,520.5 804.5,520.5 804.5,513.75 808,513.75 808,511.75 812,511.75 812,501.25 815.75,501.25 815.75,495 819.5,495 819.5,489.5 823.5,489.5 823.5,473.75 823.5,473.75 827,473.75 827,470.5 830.75,470.5 830.75,466.25 834.5,466.25 834.5,459.5 838.25,459.5 838.25,452 842,452 842,448.25 845.75,448.25 845.75,443 849.5,443 849.5,438 853.25,438 853.25,436.25 857,436.25 857,428.75 860.75,428.75 860.75,425 864.5,425 864.5,421.25 868.25,421.25 868.25,416.25 872,416.25 872,412.5 875.75,412.5 875.75,407 879.5,407 879.5,400 883.25,400 883.25,396.25 887.5,396.25 887.5,390 891.25,390 891.25,385 895,385 895,379.5 903,379.5 903,368.75 907,368.75 907,367 910.75,367 910.75,365 914.25,365 914.25,361.25 918,361.25 918,357.5 922,357.5 922,355.75 925.75,355.75 925.75,352.5 937.5,352.5 937.5,350.75 1013.25,350.75" fill="none" stroke="#2f74ad" stroke-width="2" stroke-linejoin="miter"/>
<text x="0" y="697" font-size="38.5" font-weight="bold" stroke="#231f20" stroke-width="1.1" stroke-linejoin="round" textLength="23" lengthAdjust="spacingAndGlyphs">c</text>
<path d="M340 881.9H355.2M368.75 881.9H383.95M397.5 881.9H412.7M426.25 881.9H441.45M455 881.9H470.2M483.75 881.9H498.95M512.5 881.9H527.7M541.25 881.9H556.45M570 881.9H585.2M598.75 881.9H613.95M627.5 881.9H642.7M656.25 881.9H671.45M685 881.9H700.2M713.75 881.9H728.95M742.5 881.9H757.7M771.25 881.9H786.45M800 881.9H815.2M828.75 881.9H843.95M857.5 881.9H872.7M886.25 881.9H901.45M915 881.9H922.3" fill="none" stroke="#231f20" stroke-width="1.45"/>
<path d="M916.2 878.9L922.8 881.9L916.2 885.7" fill="none" stroke="#231f20" stroke-width="1.45"/>
<path d="M352.3 703.6L366.9 708.15M380.4 712.35L395 716.9M408.5 721.11L423.1 725.65M436.6 729.86L451.2 734.41M464.7 738.61L479.3 743.16M492.8 747.37L507.4 751.91M520.9 756.12L535.5 760.67M549 764.87L563.6 769.42M577.1 773.63L591.7 778.17M605.2 782.38L619.8 786.93M633.3 791.13L647.9 795.68M661.4 799.88L676 804.43M689.5 808.64L704.1 813.19M717.6 817.39L732.2 821.94M745.7 826.14L760.3 830.69M773.8 834.9L788.4 839.45M801.9 843.65L816.5 848.2M830 852.4L844.6 856.95M858.1 861.16L872.7 865.7M886.2 869.91L900.8 874.46" fill="none" stroke="#231f20" stroke-width="1.45"/>
<path d="M904.7 893.64L892.1 901.15M880.1 908.3L867.5 915.81M855.5 922.96L842.9 930.47M830.9 937.63L818.3 945.13M806.3 952.29L793.7 959.8M781.7 966.95L769.1 974.46M757.1 981.61L744.5 989.12M732.5 996.27L719.9 1003.78M707.9 1010.93L695.3 1018.44M683.3 1025.59L670.7 1033.1M658.7 1040.26L646.1 1047.77M634.1 1054.92L621.5 1062.43M609.5 1069.58L596.9 1077.09M584.9 1084.24L572.3 1091.75M560.3 1098.9L547.7 1106.41M535.7 1113.56L523.1 1121.07M511.1 1128.23L498.5 1135.74M486.5 1142.89L473.9 1150.4M461.9 1157.55L449.3 1165.06M437.3 1172.21L424.7 1179.72M412.7 1186.87L400.1 1194.38M388.1 1201.53L375.5 1209.04M363.5 1216.2L350.9 1223.71" fill="none" stroke="#231f20" stroke-width="1.45"/>
<polygon points="200.2,902.6 182,914.1 208.62,928.15 226.82,916.65" fill="#5c659c"/>
<polyline points="200.2,902.6 182,914.1 208.62,928.15 226.82,916.65" fill="none" stroke="#1f1c22" stroke-width="1.4" stroke-linejoin="round"/>
<polygon points="182,914.1 208.62,928.15 208.62,956.4 182,942.35" fill="#484c88" stroke="#1f1c22" stroke-width="1.4" stroke-linejoin="round"/>
<polygon points="226.82,916.65 208.62,928.15 235.24,942.2 253.44,930.7" fill="#6670a2"/>
<polyline points="226.82,916.65 208.62,928.15 235.24,942.2 253.44,930.7" fill="none" stroke="#1f1c22" stroke-width="1.4" stroke-linejoin="round"/>
<polygon points="208.62,928.15 235.24,942.2 235.24,970.45 208.62,956.4" fill="#555b94" stroke="#1f1c22" stroke-width="1.4" stroke-linejoin="round"/>
<polygon points="208.62,956.4 235.24,970.45 235.24,998.7 208.62,984.65" fill="#5e6699" stroke="#1f1c22" stroke-width="1.4" stroke-linejoin="round"/>
<polygon points="253.44,930.7 235.24,942.2 261.86,956.25 280.06,944.75" fill="#5f699f"/>
<polyline points="253.44,930.7 235.24,942.2 261.86,956.25 280.06,944.75" fill="none" stroke="#1f1c22" stroke-width="1.4" stroke-linejoin="round"/>
<polygon points="235.24,942.2 261.86,956.25 261.86,984.5 235.24,970.45" fill="#4a4f8a" stroke="#1f1c22" stroke-width="1.4" stroke-linejoin="round"/>
<polygon points="235.24,970.45 261.86,984.5 261.86,1012.75 235.24,998.7" fill="#3a3a7c" stroke="#1f1c22" stroke-width="1.4" stroke-linejoin="round"/>
<polygon points="235.24,998.7 261.86,1012.75 261.86,1041 235.24,1026.95" fill="#737ba9" stroke="#1f1c22" stroke-width="1.4" stroke-linejoin="round"/>
<polygon points="280.06,944.75 261.86,956.25 288.48,970.3 306.68,958.8" fill="#838bb8"/>
<polyline points="280.06,944.75 261.86,956.25 288.48,970.3 306.68,958.8" fill="none" stroke="#1f1c22" stroke-width="1.4" stroke-linejoin="round"/>
<polygon points="261.86,956.25 288.48,970.3 288.48,998.55 261.86,984.5" fill="#737ba9" stroke="#1f1c22" stroke-width="1.4" stroke-linejoin="round"/>
<polygon points="261.86,984.5 288.48,998.55 288.48,1026.8 261.86,1012.75" fill="#636c9f" stroke="#1f1c22" stroke-width="1.4" stroke-linejoin="round"/>
<polygon points="261.86,1012.75 288.48,1026.8 288.48,1055.05 261.86,1041" fill="#737ba9" stroke="#1f1c22" stroke-width="1.4" stroke-linejoin="round"/>
<polygon points="261.86,1041 288.48,1055.05 288.48,1083.3 261.86,1069.25" fill="#8690b8" stroke="#1f1c22" stroke-width="1.4" stroke-linejoin="round"/>
<polygon points="306.68,958.8 288.48,970.3 315.1,984.35 333.3,972.85" fill="#a9b6d5"/>
<polyline points="306.68,958.8 288.48,970.3 315.1,984.35 333.3,972.85" fill="none" stroke="#1f1c22" stroke-width="1.4" stroke-linejoin="round"/>
<polygon points="288.48,970.3 315.1,984.35 315.1,1012.6 288.48,998.55" fill="#97a2c4" stroke="#1f1c22" stroke-width="1.4" stroke-linejoin="round"/>
<polygon points="288.48,998.55 315.1,1012.6 315.1,1040.85 288.48,1026.8" fill="#858fb8" stroke="#1f1c22" stroke-width="1.4" stroke-linejoin="round"/>
<polygon points="288.48,1026.8 315.1,1040.85 315.1,1069.1 288.48,1055.05" fill="#919cc0" stroke="#1f1c22" stroke-width="1.4" stroke-linejoin="round"/>
<polygon points="288.48,1055.05 315.1,1069.1 315.1,1097.35 288.48,1083.3" fill="#737ba9" stroke="#1f1c22" stroke-width="1.4" stroke-linejoin="round"/>
<polygon points="288.48,1083.3 315.1,1097.35 315.1,1125.6 288.48,1111.55" fill="#9ba7c6" stroke="#1f1c22" stroke-width="1.4" stroke-linejoin="round"/>
<polygon points="333.2,973.95 315.1,984.35 341.72,998.4 359.82,988" fill="#9fabce" stroke="#1f1c22" stroke-width="1.4" stroke-linejoin="round"/>
<polygon points="315.1,984.35 341.72,998.4 341.72,1026.65 315.1,1012.6" fill="#8e99be" stroke="#1f1c22" stroke-width="1.4" stroke-linejoin="round"/>
<polygon points="315.1,1012.6 341.72,1026.65 341.72,1054.9 315.1,1040.85" fill="#656e9f" stroke="#1f1c22" stroke-width="1.4" stroke-linejoin="round"/>
<polygon points="315.1,1040.85 341.72,1054.9 341.72,1083.15 315.1,1069.1" fill="#7f88b2" stroke="#1f1c22" stroke-width="1.4" stroke-linejoin="round"/>
<polygon points="315.1,1069.1 341.72,1083.15 341.72,1111.4 315.1,1097.35" fill="#8a94ba" stroke="#1f1c22" stroke-width="1.4" stroke-linejoin="round"/>
<polygon points="315.1,1097.35 341.72,1111.4 341.72,1139.65 315.1,1125.6" fill="#a9b5d1" stroke="#1f1c22" stroke-width="1.4" stroke-linejoin="round"/>
<polygon points="315.1,1125.6 341.72,1139.65 341.72,1167.9 315.1,1153.85" fill="#b5c4d8" stroke="#1f1c22" stroke-width="1.4" stroke-linejoin="round"/>
<polygon points="359.82,988 341.72,998.4 368.34,1012.45 386.44,1002.05" fill="#bcc8e3" stroke="#1f1c22" stroke-width="1.4" stroke-linejoin="round"/>
<polygon points="341.72,998.4 368.34,1012.45 368.34,1040.7 341.72,1026.65" fill="#a3afcd" stroke="#1f1c22" stroke-width="1.4" stroke-linejoin="round"/>
<polygon points="368.34,1012.45 386.44,1002.05 386.44,1030.3 368.34,1040.7" fill="#8994b3" stroke="#1f1c22" stroke-width="1.4" stroke-linejoin="round"/>
<polygon points="341.72,1026.65 368.34,1040.7 368.34,1068.95 341.72,1054.9" fill="#a7b3d0" stroke="#1f1c22" stroke-width="1.4" stroke-linejoin="round"/>
<polygon points="368.34,1040.7 386.44,1030.3 386.44,1058.55 368.34,1068.95" fill="#8d98b6" stroke="#1f1c22" stroke-width="1.4" stroke-linejoin="round"/>
<polygon points="341.72,1054.9 368.34,1068.95 368.34,1097.2 341.72,1083.15" fill="#c3d0de" stroke="#1f1c22" stroke-width="1.4" stroke-linejoin="round"/>
<polygon points="368.34,1068.95 386.44,1058.55 386.44,1086.8 368.34,1097.2" fill="#abb7c9" stroke="#1f1c22" stroke-width="1.4" stroke-linejoin="round"/>
<polygon points="341.72,1083.15 368.34,1097.2 368.34,1125.45 341.72,1111.4" fill="#dfeef1" stroke="#1f1c22" stroke-width="1.4" stroke-linejoin="round"/>
<polygon points="368.34,1097.2 386.44,1086.8 386.44,1115.05 368.34,1125.45" fill="#c4d3db" stroke="#1f1c22" stroke-width="1.4" stroke-linejoin="round"/>
<polygon points="341.72,1111.4 368.34,1125.45 368.34,1153.7 341.72,1139.65" fill="#ccdbe4" stroke="#1f1c22" stroke-width="1.4" stroke-linejoin="round"/>
<polygon points="368.34,1125.45 386.44,1115.05 386.44,1143.3 368.34,1153.7" fill="#b4c2cf" stroke="#1f1c22" stroke-width="1.4" stroke-linejoin="round"/>
<polygon points="341.72,1139.65 368.34,1153.7 368.34,1181.95 341.72,1167.9" fill="#97a2c4" stroke="#1f1c22" stroke-width="1.4" stroke-linejoin="round"/>
<polygon points="368.34,1153.7 386.44,1143.3 386.44,1171.55 368.34,1181.95" fill="#7d87a8" stroke="#1f1c22" stroke-width="1.4" stroke-linejoin="round"/>
<polygon points="341.72,1167.9 368.34,1181.95 368.34,1210.2 341.72,1196.15" fill="#b3c5cf" stroke="#1f1c22" stroke-width="1.4" stroke-linejoin="round"/>
<polygon points="368.34,1181.95 386.44,1171.55 386.44,1199.8 368.34,1210.2" fill="#9aabb9" stroke="#1f1c22" stroke-width="1.4" stroke-linejoin="round"/>
<polygon points="119.4,823.45 137.7,812.75 164.35,826.85 164.35,860.8 146.05,871.5 119.4,857.4" fill="#fff" stroke="#fff" stroke-width="4.4" stroke-linejoin="round"/>
<polygon points="146.05,803.6 164.35,792.9 191,807 191,874.9 172.7,885.6 146.05,871.5" fill="#fff" stroke="#fff" stroke-width="4.4" stroke-linejoin="round"/>
<polygon points="172.7,783.75 191,773.05 217.65,787.15 217.65,889 199.35,899.7 172.7,885.6" fill="#fff" stroke="#fff" stroke-width="4.4" stroke-linejoin="round"/>
<polygon points="199.35,763.9 217.65,753.2 244.3,767.3 244.3,903.1 226,913.8 199.35,899.7" fill="#fff" stroke="#fff" stroke-width="4.4" stroke-linejoin="round"/>
<polygon points="226,744.05 244.3,733.35 270.95,747.45 270.95,917.2 252.65,927.9 226,913.8" fill="#fff" stroke="#fff" stroke-width="4.4" stroke-linejoin="round"/>
<polygon points="252.65,724.2 270.95,713.5 297.6,727.6 297.6,931.3 279.3,942 252.65,927.9" fill="#fff" stroke="#fff" stroke-width="4.4" stroke-linejoin="round"/>
<polygon points="279.3,704.35 297.6,693.65 324.25,707.75 324.25,945.4 305.95,956.1 279.3,942" fill="#fff" stroke="#fff" stroke-width="4.4" stroke-linejoin="round"/>
<polygon points="305.95,684.5 324.25,673.8 350.9,687.9 350.9,959.5 332.6,970.2 305.95,956.1" fill="#fff" stroke="#fff" stroke-width="4.4" stroke-linejoin="round"/>
<polygon points="137.7,812.75 119.4,823.45 146.05,837.55 164.35,826.85" fill="#838bbf" stroke="#1f1c22" stroke-width="1.4" stroke-linejoin="round"/>
<polygon points="119.4,823.45 146.05,837.55 146.05,871.5 119.4,857.4" fill="#626b9e" stroke="#1f1c22" stroke-width="1.4" stroke-linejoin="round"/>
<polygon points="164.35,792.9 146.05,803.6 172.7,817.7 191,807" fill="#98a0cb" stroke="#1f1c22" stroke-width="1.4" stroke-linejoin="round"/>
<polygon points="146.05,803.6 172.7,817.7 172.7,851.65 146.05,837.55" fill="#7c86af" stroke="#1f1c22" stroke-width="1.4" stroke-linejoin="round"/>
<polygon points="146.05,837.55 172.7,851.65 172.7,885.6 146.05,871.5" fill="#7c86af" stroke="#1f1c22" stroke-width="1.4" stroke-linejoin="round"/>
<polygon points="191,773.05 172.7,783.75 199.35,797.85 217.65,787.15" fill="#979eca" stroke="#1f1c22" stroke-width="1.4" stroke-linejoin="round"/>
<polygon points="172.7,783.75 199.35,797.85 199.35,831.8 172.7,817.7" fill="#7a83ad" stroke="#1f1c22" stroke-width="1.4" stroke-linejoin="round"/>
<polygon points="172.7,817.7 199.35,831.8 199.35,865.75 172.7,851.65" fill="#545b93" stroke="#1f1c22" stroke-width="1.4" stroke-linejoin="round"/>
<polygon points="172.7,851.65 199.35,865.75 199.35,899.7 172.7,885.6" fill="#7c86af" stroke="#1f1c22" stroke-width="1.4" stroke-linejoin="round"/>
<polygon points="217.65,753.2 199.35,763.9 226,778 244.3,767.3" fill="#a0a8d1" stroke="#1f1c22" stroke-width="1.4" stroke-linejoin="round"/>
<polygon points="199.35,763.9 226,778 226,811.95 199.35,797.85" fill="#8690b8" stroke="#1f1c22" stroke-width="1.4" stroke-linejoin="round"/>
<polygon points="199.35,797.85 226,811.95 226,845.9 199.35,831.8" fill="#50578f" stroke="#1f1c22" stroke-width="1.4" stroke-linejoin="round"/>
<polygon points="199.35,831.8 226,845.9 226,879.85 199.35,865.75" fill="#4e558e" stroke="#1f1c22" stroke-width="1.4" stroke-linejoin="round"/>
<polygon points="199.35,865.75 226,879.85 226,913.8 199.35,899.7" fill="#7c86af" stroke="#1f1c22" stroke-width="1.4" stroke-linejoin="round"/>
<polygon points="244.3,733.35 226,744.05 252.65,758.15 270.95,747.45" fill="#abb4d8" stroke="#1f1c22" stroke-width="1.4" stroke-linejoin="round"/>
<polygon points="226,744.05 252.65,758.15 252.65,792.1 226,778" fill="#949fc2" stroke="#1f1c22" stroke-width="1.4" stroke-linejoin="round"/>
<polygon points="226,778 252.65,792.1 252.65,826.05 226,811.95" fill="#6a72a3" stroke="#1f1c22" stroke-width="1.4" stroke-linejoin="round"/>
<polygon points="226,811.95 252.65,826.05 252.65,860 226,845.9" fill="#4a4f8a" stroke="#1f1c22" stroke-width="1.4" stroke-linejoin="round"/>
<polygon points="226,845.9 252.65,860 252.65,893.95 226,879.85" fill="#3c3d7e" stroke="#1f1c22" stroke-width="1.4" stroke-linejoin="round"/>
<polygon points="226,879.85 252.65,893.95 252.65,927.9 226,913.8" fill="#6871a2" stroke="#1f1c22" stroke-width="1.4" stroke-linejoin="round"/>
<polygon points="270.95,713.5 252.65,724.2 279.3,738.3 297.6,727.6" fill="#b3bede" stroke="#1f1c22" stroke-width="1.4" stroke-linejoin="round"/>
<polygon points="252.65,724.2 279.3,738.3 279.3,772.25 252.65,758.15" fill="#9eabca" stroke="#1f1c22" stroke-width="1.4" stroke-linejoin="round"/>
<polygon points="252.65,758.15 279.3,772.25 279.3,806.2 252.65,792.1" fill="#7a83ad" stroke="#1f1c22" stroke-width="1.4" stroke-linejoin="round"/>
<polygon points="252.65,792.1 279.3,806.2 279.3,840.15 252.65,826.05" fill="#a8b3d0" stroke="#1f1c22" stroke-width="1.4" stroke-linejoin="round"/>
<polygon points="252.65,826.05 279.3,840.15 279.3,874.1 252.65,860" fill="#50578f" stroke="#1f1c22" stroke-width="1.4" stroke-linejoin="round"/>
<polygon points="252.65,860 279.3,874.1 279.3,908.05 252.65,893.95" fill="#444684" stroke="#1f1c22" stroke-width="1.4" stroke-linejoin="round"/>
<polygon points="252.65,893.95 279.3,908.05 279.3,942 252.65,927.9" fill="#4e558e" stroke="#1f1c22" stroke-width="1.4" stroke-linejoin="round"/>
<polygon points="297.6,693.65 279.3,704.35 305.95,718.45 324.25,707.75" fill="#c9d5e2" stroke="#1f1c22" stroke-width="1.4" stroke-linejoin="round"/>
<polygon points="279.3,704.35 305.95,718.45 305.95,752.4 279.3,738.3" fill="#aab6d2" stroke="#1f1c22" stroke-width="1.4" stroke-linejoin="round"/>
<polygon points="279.3,738.3 305.95,752.4 305.95,786.35 279.3,772.25" fill="#8690b8" stroke="#1f1c22" stroke-width="1.4" stroke-linejoin="round"/>
<polygon points="279.3,772.25 305.95,786.35 305.95,820.3 279.3,806.2" fill="#9aa5c6" stroke="#1f1c22" stroke-width="1.4" stroke-linejoin="round"/>
<polygon points="279.3,806.2 305.95,820.3 305.95,854.25 279.3,840.15" fill="#8891b8" stroke="#1f1c22" stroke-width="1.4" stroke-linejoin="round"/>
<polygon points="279.3,840.15 305.95,854.25 305.95,888.2 279.3,874.1" fill="#7c84b0" stroke="#1f1c22" stroke-width="1.4" stroke-linejoin="round"/>
<polygon points="279.3,874.1 305.95,888.2 305.95,922.15 279.3,908.05" fill="#646e9f" stroke="#1f1c22" stroke-width="1.4" stroke-linejoin="round"/>
<polygon points="279.3,908.05 305.95,922.15 305.95,956.1 279.3,942" fill="#565c94" stroke="#1f1c22" stroke-width="1.4" stroke-linejoin="round"/>
<polygon points="324.25,673.8 305.95,684.5 332.6,698.6 350.9,687.9" fill="#d6e4f6" stroke="#1f1c22" stroke-width="1.4" stroke-linejoin="round"/>
<polygon points="305.95,684.5 332.6,698.6 332.6,732.55 305.95,718.45" fill="#b9c8da" stroke="#1f1c22" stroke-width="1.4" stroke-linejoin="round"/>
<polygon points="332.6,698.6 350.9,687.9 350.9,721.85 332.6,732.55" fill="#a0aec4" stroke="#1f1c22" stroke-width="1.4" stroke-linejoin="round"/>
<polygon points="305.95,718.45 332.6,732.55 332.6,766.5 305.95,752.4" fill="#939fc0" stroke="#1f1c22" stroke-width="1.4" stroke-linejoin="round"/>
<polygon points="332.6,732.55 350.9,721.85 350.9,755.8 332.6,766.5" fill="#7984a4" stroke="#1f1c22" stroke-width="1.4" stroke-linejoin="round"/>
<polygon points="305.95,752.4 332.6,766.5 332.6,800.45 305.95,786.35" fill="#858fb8" stroke="#1f1c22" stroke-width="1.4" stroke-linejoin="round"/>
<polygon points="332.6,766.5 350.9,755.8 350.9,789.75 332.6,800.45" fill="#6b749a" stroke="#1f1c22" stroke-width="1.4" stroke-linejoin="round"/>
<polygon points="305.95,786.35 332.6,800.45 332.6,834.4 305.95,820.3" fill="#a9b8d3" stroke="#1f1c22" stroke-width="1.4" stroke-linejoin="round"/>
<polygon points="332.6,800.45 350.9,789.75 350.9,823.7 332.6,834.4" fill="#909dba" stroke="#1f1c22" stroke-width="1.4" stroke-linejoin="round"/>
<polygon points="305.95,820.3 332.6,834.4 332.6,868.35 305.95,854.25" fill="#bccbdc" stroke="#1f1c22" stroke-width="1.4" stroke-linejoin="round"/>
<polygon points="332.6,834.4 350.9,823.7 350.9,857.65 332.6,868.35" fill="#a4b2c6" stroke="#1f1c22" stroke-width="1.4" stroke-linejoin="round"/>
<polygon points="305.95,854.25 332.6,868.35 332.6,902.3 305.95,888.2" fill="#b3c2d8" stroke="#1f1c22" stroke-width="1.4" stroke-linejoin="round"/>
<polygon points="332.6,868.35 350.9,857.65 350.9,891.6 332.6,902.3" fill="#9aa8c0" stroke="#1f1c22" stroke-width="1.4" stroke-linejoin="round"/>
<polygon points="305.95,888.2 332.6,902.3 332.6,936.25 305.95,922.15" fill="#a2afcc" stroke="#1f1c22" stroke-width="1.4" stroke-linejoin="round"/>
<polygon points="332.6,902.3 350.9,891.6 350.9,925.55 332.6,936.25" fill="#8894b2" stroke="#1f1c22" stroke-width="1.4" stroke-linejoin="round"/>
<polygon points="305.95,922.15 332.6,936.25 332.6,970.2 305.95,956.1" fill="#939fc0" stroke="#1f1c22" stroke-width="1.4" stroke-linejoin="round"/>
<polygon points="332.6,936.25 350.9,925.55 350.9,959.5 332.6,970.2" fill="#7984a4" stroke="#1f1c22" stroke-width="1.4" stroke-linejoin="round"/>
<polygon points="425.8,871.9 410.4,880.8 424.1,887.85 439.5,878.95" fill="#7880b0" stroke="#1f1c22" stroke-width="1.4" stroke-linejoin="round"/>
<polygon points="410.4,880.8 424.1,887.85 424.1,927.2 410.4,920.15" fill="#626b9e" stroke="#1f1c22" stroke-width="1.4" stroke-linejoin="round"/>
<polygon points="410.4,920.15 424.1,927.2 424.1,966.55 410.4,959.5" fill="#646d9f" stroke="#1f1c22" stroke-width="1.4" stroke-linejoin="round"/>
<polygon points="439.5,878.95 424.1,887.85 437.8,894.9 453.2,886" fill="#a9b5d5" stroke="#1f1c22" stroke-width="1.4" stroke-linejoin="round"/>
<polygon points="424.1,887.85 437.8,894.9 437.8,934.25 424.1,927.2" fill="#97a2c4" stroke="#1f1c22" stroke-width="1.4" stroke-linejoin="round"/>
<polygon points="424.1,927.2 437.8,934.25 437.8,973.6 424.1,966.55" fill="#5a6299" stroke="#1f1c22" stroke-width="1.4" stroke-linejoin="round"/>
<polygon points="453.2,846.65 437.8,855.55 451.5,862.6 466.9,853.7" fill="#7c84b4" stroke="#1f1c22" stroke-width="1.4" stroke-linejoin="round"/>
<polygon points="437.8,855.55 451.5,862.6 451.5,901.95 437.8,894.9" fill="#6a72a3" stroke="#1f1c22" stroke-width="1.4" stroke-linejoin="round"/>
<polygon points="437.8,894.9 451.5,901.95 451.5,941.3 437.8,934.25" fill="#8690b8" stroke="#1f1c22" stroke-width="1.4" stroke-linejoin="round"/>
<polygon points="437.8,934.25 451.5,941.3 451.5,980.65 437.8,973.6" fill="#6670a2" stroke="#1f1c22" stroke-width="1.4" stroke-linejoin="round"/>
<polygon points="437.8,973.6 451.5,980.65 451.5,1020 437.8,1012.95" fill="#737ba9" stroke="#1f1c22" stroke-width="1.4" stroke-linejoin="round"/>
<polygon points="466.9,853.7 451.5,862.6 465.2,869.65 480.6,860.75" fill="#a3aed0" stroke="#1f1c22" stroke-width="1.4" stroke-linejoin="round"/>
<polygon points="451.5,862.6 465.2,869.65 465.2,909 451.5,901.95" fill="#8e99be" stroke="#1f1c22" stroke-width="1.4" stroke-linejoin="round"/>
<polygon points="451.5,901.95 465.2,909 465.2,948.35 451.5,941.3" fill="#7d86b0" stroke="#1f1c22" stroke-width="1.4" stroke-linejoin="round"/>
<polygon points="451.5,941.3 465.2,948.35 465.2,987.7 451.5,980.65" fill="#7c86af" stroke="#1f1c22" stroke-width="1.4" stroke-linejoin="round"/>
<polygon points="451.5,980.65 465.2,987.7 465.2,1027.05 451.5,1020" fill="#8690b8" stroke="#1f1c22" stroke-width="1.4" stroke-linejoin="round"/>
<polygon points="480.6,821.4 465.2,830.3 478.9,837.35 494.3,828.45" fill="#8890ba" stroke="#1f1c22" stroke-width="1.4" stroke-linejoin="round"/>
<polygon points="465.2,830.3 478.9,837.35 478.9,876.7 465.2,869.65" fill="#7880ac" stroke="#1f1c22" stroke-width="1.4" stroke-linejoin="round"/>
<polygon points="465.2,869.65 478.9,876.7 478.9,916.05 465.2,909" fill="#8690b8" stroke="#1f1c22" stroke-width="1.4" stroke-linejoin="round"/>
<polygon points="465.2,909 478.9,916.05 478.9,955.4 465.2,948.35" fill="#737ba9" stroke="#1f1c22" stroke-width="1.4" stroke-linejoin="round"/>
<polygon points="465.2,948.35 478.9,955.4 478.9,994.75 465.2,987.7" fill="#626b9e" stroke="#1f1c22" stroke-width="1.4" stroke-linejoin="round"/>
<polygon points="465.2,987.7 478.9,994.75 478.9,1034.1 465.2,1027.05" fill="#6a72a3" stroke="#1f1c22" stroke-width="1.4" stroke-linejoin="round"/>
<polygon points="465.2,1027.05 478.9,1034.1 478.9,1073.45 465.2,1066.4" fill="#858fb8" stroke="#1f1c22" stroke-width="1.4" stroke-linejoin="round"/>
<polygon points="494.3,828.45 478.9,837.35 492.6,844.4 508,835.5" fill="#9ba5ca" stroke="#1f1c22" stroke-width="1.4" stroke-linejoin="round"/>
<polygon points="478.9,837.35 492.6,844.4 492.6,883.75 478.9,876.7" fill="#828bb4" stroke="#1f1c22" stroke-width="1.4" stroke-linejoin="round"/>
<polygon points="478.9,876.7 492.6,883.75 492.6,923.1 478.9,916.05" fill="#8e99be" stroke="#1f1c22" stroke-width="1.4" stroke-linejoin="round"/>
<polygon points="478.9,916.05 492.6,923.1 492.6,962.45 478.9,955.4" fill="#69719f" stroke="#1f1c22" stroke-width="1.4" stroke-linejoin="round"/>
<polygon points="478.9,955.4 492.6,962.45 492.6,1001.8 478.9,994.75" fill="#656e9f" stroke="#1f1c22" stroke-width="1.4" stroke-linejoin="round"/>
<polygon points="478.9,994.75 492.6,1001.8 492.6,1041.15 478.9,1034.1" fill="#7f88b2" stroke="#1f1c22" stroke-width="1.4" stroke-linejoin="round"/>
<polygon points="478.9,1034.1 492.6,1041.15 492.6,1080.5 478.9,1073.45" fill="#7f88b2" stroke="#1f1c22" stroke-width="1.4" stroke-linejoin="round"/>
<polygon points="508,796.15 492.6,805.05 506.3,812.1 521.7,803.2" fill="#8f98c0" stroke="#1f1c22" stroke-width="1.4" stroke-linejoin="round"/>
<polygon points="492.6,805.05 506.3,812.1 506.3,851.45 492.6,844.4" fill="#7d86b0" stroke="#1f1c22" stroke-width="1.4" stroke-linejoin="round"/>
<polygon points="506.3,812.1 521.7,803.2 521.7,842.55 506.3,851.45" fill="#646b91" stroke="#1f1c22" stroke-width="1.4" stroke-linejoin="round"/>
<polygon points="492.6,844.4 506.3,851.45 506.3,890.8 492.6,883.75" fill="#6a72a3" stroke="#1f1c22" stroke-width="1.4" stroke-linejoin="round"/>
<polygon points="506.3,851.45 521.7,842.55 521.7,881.9 506.3,890.8" fill="#525983" stroke="#1f1c22" stroke-width="1.4" stroke-linejoin="round"/>
<polygon points="492.6,883.75 506.3,890.8 506.3,930.15 492.6,923.1" fill="#7278a8" stroke="#1f1c22" stroke-width="1.4" stroke-linejoin="round"/>
<polygon points="506.3,890.8 521.7,881.9 521.7,921.25 506.3,930.15" fill="#595e88" stroke="#1f1c22" stroke-width="1.4" stroke-linejoin="round"/>
<polygon points="492.6,923.1 506.3,930.15 506.3,969.5 492.6,962.45" fill="#6d75a5" stroke="#1f1c22" stroke-width="1.4" stroke-linejoin="round"/>
<polygon points="506.3,930.15 521.7,921.25 521.7,960.6 506.3,969.5" fill="#555c85" stroke="#1f1c22" stroke-width="1.4" stroke-linejoin="round"/>
<polygon points="492.6,962.45 506.3,969.5 506.3,1008.85 492.6,1001.8" fill="#7d86b0" stroke="#1f1c22" stroke-width="1.4" stroke-linejoin="round"/>
<polygon points="506.3,969.5 521.7,960.6 521.7,999.95 506.3,1008.85" fill="#646b91" stroke="#1f1c22" stroke-width="1.4" stroke-linejoin="round"/>
<polygon points="492.6,1001.8 506.3,1008.85 506.3,1048.2 492.6,1041.15" fill="#a9b5d1" stroke="#1f1c22" stroke-width="1.4" stroke-linejoin="round"/>
<polygon points="506.3,1008.85 521.7,999.95 521.7,1039.3 506.3,1048.2" fill="#8f9ab7" stroke="#1f1c22" stroke-width="1.4" stroke-linejoin="round"/>
<polygon points="492.6,1041.15 506.3,1048.2 506.3,1087.55 492.6,1080.5" fill="#abb7d2" stroke="#1f1c22" stroke-width="1.4" stroke-linejoin="round"/>
<polygon points="506.3,1048.2 521.7,1039.3 521.7,1078.65 506.3,1087.55" fill="#919cb9" stroke="#1f1c22" stroke-width="1.4" stroke-linejoin="round"/>
<polygon points="492.6,1080.5 506.3,1087.55 506.3,1126.9 492.6,1119.85" fill="#98a4c5" stroke="#1f1c22" stroke-width="1.4" stroke-linejoin="round"/>
<polygon points="506.3,1087.55 521.7,1078.65 521.7,1118 506.3,1126.9" fill="#7e89a9" stroke="#1f1c22" stroke-width="1.4" stroke-linejoin="round"/>
<polygon points="571.4,873.4 557.5,881.2 569.9,887.55 583.8,879.75" fill="#565c9c" stroke="#1f1c22" stroke-width="1.4" stroke-linejoin="round"/>
<polygon points="557.5,881.2 569.9,887.55 569.9,917.75 557.5,911.4" fill="#454888" stroke="#1f1c22" stroke-width="1.4" stroke-linejoin="round"/>
<polygon points="583.8,879.75 569.9,887.55 582.3,893.9 596.2,886.1" fill="#8e99c4" stroke="#1f1c22" stroke-width="1.4" stroke-linejoin="round"/>
<polygon points="569.9,887.55 582.3,893.9 582.3,924.1 569.9,917.75" fill="#7a83ad" stroke="#1f1c22" stroke-width="1.4" stroke-linejoin="round"/>
<polygon points="596.2,855.9 582.3,863.7 594.7,870.05 608.6,862.25" fill="#6e76aa" stroke="#1f1c22" stroke-width="1.4" stroke-linejoin="round"/>
<polygon points="582.3,863.7 594.7,870.05 594.7,900.25 582.3,893.9" fill="#5e6699" stroke="#1f1c22" stroke-width="1.4" stroke-linejoin="round"/>
<polygon points="582.3,893.9 594.7,900.25 594.7,930.45 582.3,924.1" fill="#8e99be" stroke="#1f1c22" stroke-width="1.4" stroke-linejoin="round"/>
<polygon points="582.3,924.1 594.7,930.45 594.7,960.65 582.3,954.3" fill="#5a6299" stroke="#1f1c22" stroke-width="1.4" stroke-linejoin="round"/>
<polygon points="608.6,862.25 594.7,870.05 607.1,876.4 621,868.6" fill="#9ba5ca" stroke="#1f1c22" stroke-width="1.4" stroke-linejoin="round"/>
<polygon points="594.7,870.05 607.1,876.4 607.1,906.6 594.7,900.25" fill="#858fb8" stroke="#1f1c22" stroke-width="1.4" stroke-linejoin="round"/>
<polygon points="594.7,900.25 607.1,906.6 607.1,936.8 594.7,930.45" fill="#8d98bd" stroke="#1f1c22" stroke-width="1.4" stroke-linejoin="round"/>
<polygon points="594.7,930.45 607.1,936.8 607.1,967 594.7,960.65" fill="#555c94" stroke="#1f1c22" stroke-width="1.4" stroke-linejoin="round"/>
<polygon points="621,838.4 607.1,846.2 619.5,852.55 633.4,844.75" fill="#8890ba" stroke="#1f1c22" stroke-width="1.4" stroke-linejoin="round"/>
<polygon points="607.1,846.2 619.5,852.55 619.5,882.75 607.1,876.4" fill="#7c84b0" stroke="#1f1c22" stroke-width="1.4" stroke-linejoin="round"/>
<polygon points="607.1,876.4 619.5,882.75 619.5,912.95 607.1,906.6" fill="#7c84b0" stroke="#1f1c22" stroke-width="1.4" stroke-linejoin="round"/>
<polygon points="607.1,906.6 619.5,912.95 619.5,943.15 607.1,936.8" fill="#7f88b2" stroke="#1f1c22" stroke-width="1.4" stroke-linejoin="round"/>
<polygon points="607.1,936.8 619.5,943.15 619.5,973.35 607.1,967" fill="#545b93" stroke="#1f1c22" stroke-width="1.4" stroke-linejoin="round"/>
<polygon points="607.1,967 619.5,973.35 619.5,1003.55 607.1,997.2" fill="#737ba9" stroke="#1f1c22" stroke-width="1.4" stroke-linejoin="round"/>
<polygon points="633.4,844.75 619.5,852.55 631.9,858.9 645.8,851.1" fill="#a3aed0" stroke="#1f1c22" stroke-width="1.4" stroke-linejoin="round"/>
<polygon points="619.5,852.55 631.9,858.9 631.9,889.1 619.5,882.75" fill="#949fc2" stroke="#1f1c22" stroke-width="1.4" stroke-linejoin="round"/>
<polygon points="619.5,882.75 631.9,889.1 631.9,919.3 619.5,912.95" fill="#6e76a6" stroke="#1f1c22" stroke-width="1.4" stroke-linejoin="round"/>
<polygon points="619.5,912.95 631.9,919.3 631.9,949.5 619.5,943.15" fill="#7d86b0" stroke="#1f1c22" stroke-width="1.4" stroke-linejoin="round"/>
<polygon points="619.5,943.15 631.9,949.5 631.9,979.7 619.5,973.35" fill="#626b9e" stroke="#1f1c22" stroke-width="1.4" stroke-linejoin="round"/>
<polygon points="619.5,973.35 631.9,979.7 631.9,1009.9 619.5,1003.55" fill="#626b9e" stroke="#1f1c22" stroke-width="1.4" stroke-linejoin="round"/>
<polygon points="645.8,820.9 631.9,828.7 644.3,835.05 658.2,827.25" fill="#a9b6d5" stroke="#1f1c22" stroke-width="1.4" stroke-linejoin="round"/>
<polygon points="631.9,828.7 644.3,835.05 644.3,865.25 631.9,858.9" fill="#98a4c5" stroke="#1f1c22" stroke-width="1.4" stroke-linejoin="round"/>
<polygon points="644.3,835.05 658.2,827.25 658.2,857.45 644.3,865.25" fill="#7e89a9" stroke="#1f1c22" stroke-width="1.4" stroke-linejoin="round"/>
<polygon points="631.9,858.9 644.3,865.25 644.3,895.45 631.9,889.1" fill="#9ba7c6" stroke="#1f1c22" stroke-width="1.4" stroke-linejoin="round"/>
<polygon points="644.3,865.25 658.2,857.45 658.2,887.65 644.3,895.45" fill="#818cab" stroke="#1f1c22" stroke-width="1.4" stroke-linejoin="round"/>
<polygon points="631.9,889.1 644.3,895.45 644.3,925.65 631.9,919.3" fill="#6a72a3" stroke="#1f1c22" stroke-width="1.4" stroke-linejoin="round"/>
<polygon points="644.3,895.45 658.2,887.65 658.2,917.85 644.3,925.65" fill="#525983" stroke="#1f1c22" stroke-width="1.4" stroke-linejoin="round"/>
<polygon points="631.9,919.3 644.3,925.65 644.3,955.85 631.9,949.5" fill="#7880ac" stroke="#1f1c22" stroke-width="1.4" stroke-linejoin="round"/>
<polygon points="644.3,925.65 658.2,917.85 658.2,948.05 644.3,955.85" fill="#5f668d" stroke="#1f1c22" stroke-width="1.4" stroke-linejoin="round"/>
<polygon points="631.9,949.5 644.3,955.85 644.3,986.05 631.9,979.7" fill="#6e76a6" stroke="#1f1c22" stroke-width="1.4" stroke-linejoin="round"/>
<polygon points="644.3,955.85 658.2,948.05 658.2,978.25 644.3,986.05" fill="#565d86" stroke="#1f1c22" stroke-width="1.4" stroke-linejoin="round"/>
<polygon points="631.9,979.7 644.3,986.05 644.3,1016.25 631.9,1009.9" fill="#626b9e" stroke="#1f1c22" stroke-width="1.4" stroke-linejoin="round"/>
<polygon points="644.3,986.05 658.2,978.25 658.2,1008.45 644.3,1016.25" fill="#4b537e" stroke="#1f1c22" stroke-width="1.4" stroke-linejoin="round"/>
<polygon points="631.9,1009.9 644.3,1016.25 644.3,1046.45 631.9,1040.1" fill="#8690b8" stroke="#1f1c22" stroke-width="1.4" stroke-linejoin="round"/>
<polygon points="644.3,1016.25 658.2,1008.45 658.2,1038.65 644.3,1046.45" fill="#6c759a" stroke="#1f1c22" stroke-width="1.4" stroke-linejoin="round"/>
<polygon points="706.2,863.2 693.6,870.8 704.78,876.55 717.38,868.95" fill="#565c9c" stroke="#1f1c22" stroke-width="1.4" stroke-linejoin="round"/>
<polygon points="693.6,870.8 704.78,876.55 704.78,897.65 693.6,891.9" fill="#4a4f8a" stroke="#1f1c22" stroke-width="1.4" stroke-linejoin="round"/>
<polygon points="693.6,891.9 704.78,897.65 704.78,918.75 693.6,913" fill="#444684" stroke="#1f1c22" stroke-width="1.4" stroke-linejoin="round"/>
<polygon points="717.38,868.95 704.78,876.55 715.96,882.3 728.56,874.7" fill="#8890b4" stroke="#1f1c22" stroke-width="1.4" stroke-linejoin="round"/>
<polygon points="704.78,876.55 715.96,882.3 715.96,903.4 704.78,897.65" fill="#7a83ad" stroke="#1f1c22" stroke-width="1.4" stroke-linejoin="round"/>
<polygon points="704.78,897.65 715.96,903.4 715.96,924.5 704.78,918.75" fill="#545b93" stroke="#1f1c22" stroke-width="1.4" stroke-linejoin="round"/>
<polygon points="728.56,853.6 715.96,861.2 727.14,866.95 739.74,859.35" fill="#8e96c0" stroke="#1f1c22" stroke-width="1.4" stroke-linejoin="round"/>
<polygon points="715.96,861.2 727.14,866.95 727.14,888.05 715.96,882.3" fill="#7a83ad" stroke="#1f1c22" stroke-width="1.4" stroke-linejoin="round"/>
<polygon points="715.96,882.3 727.14,888.05 727.14,909.15 715.96,903.4" fill="#626b9e" stroke="#1f1c22" stroke-width="1.4" stroke-linejoin="round"/>
<polygon points="715.96,903.4 727.14,909.15 727.14,930.25 715.96,924.5" fill="#484c88" stroke="#1f1c22" stroke-width="1.4" stroke-linejoin="round"/>
<polygon points="715.96,924.5 727.14,930.25 727.14,951.35 715.96,945.6" fill="#5a6299" stroke="#1f1c22" stroke-width="1.4" stroke-linejoin="round"/>
<polygon points="739.74,859.35 727.14,866.95 738.32,872.7 750.92,865.1" fill="#8088b4" stroke="#1f1c22" stroke-width="1.4" stroke-linejoin="round"/>
<polygon points="727.14,866.95 738.32,872.7 738.32,893.8 727.14,888.05" fill="#737ba9" stroke="#1f1c22" stroke-width="1.4" stroke-linejoin="round"/>
<polygon points="727.14,888.05 738.32,893.8 738.32,914.9 727.14,909.15" fill="#6e76a6" stroke="#1f1c22" stroke-width="1.4" stroke-linejoin="round"/>
<polygon points="727.14,909.15 738.32,914.9 738.32,936 727.14,930.25" fill="#4a4f8a" stroke="#1f1c22" stroke-width="1.4" stroke-linejoin="round"/>
<polygon points="727.14,930.25 738.32,936 738.32,957.1 727.14,951.35" fill="#50578f" stroke="#1f1c22" stroke-width="1.4" stroke-linejoin="round"/>
<polygon points="750.92,844 738.32,851.6 749.5,857.35 762.1,849.75" fill="#d0def0" stroke="#1f1c22" stroke-width="1.4" stroke-linejoin="round"/>
<polygon points="738.32,851.6 749.5,857.35 749.5,878.45 738.32,872.7" fill="#b9c8da" stroke="#1f1c22" stroke-width="1.4" stroke-linejoin="round"/>
<polygon points="749.5,857.35 762.1,849.75 762.1,870.85 749.5,878.45" fill="#a0aec4" stroke="#1f1c22" stroke-width="1.4" stroke-linejoin="round"/>
<polygon points="738.32,872.7 749.5,878.45 749.5,899.55 738.32,893.8" fill="#a3afcd" stroke="#1f1c22" stroke-width="1.4" stroke-linejoin="round"/>
<polygon points="749.5,878.45 762.1,870.85 762.1,891.95 749.5,899.55" fill="#8994b3" stroke="#1f1c22" stroke-width="1.4" stroke-linejoin="round"/>
<polygon points="738.32,893.8 749.5,899.55 749.5,920.65 738.32,914.9" fill="#939fc0" stroke="#1f1c22" stroke-width="1.4" stroke-linejoin="round"/>
<polygon points="749.5,899.55 762.1,891.95 762.1,913.05 749.5,920.65" fill="#7984a4" stroke="#1f1c22" stroke-width="1.4" stroke-linejoin="round"/>
<polygon points="738.32,914.9 749.5,920.65 749.5,941.75 738.32,936" fill="#545b93" stroke="#1f1c22" stroke-width="1.4" stroke-linejoin="round"/>
<polygon points="749.5,920.65 762.1,913.05 762.1,934.15 749.5,941.75" fill="#3f4573" stroke="#1f1c22" stroke-width="1.4" stroke-linejoin="round"/>
<polygon points="738.32,936 749.5,941.75 749.5,962.85 738.32,957.1" fill="#6e76a6" stroke="#1f1c22" stroke-width="1.4" stroke-linejoin="round"/>
<polygon points="749.5,941.75 762.1,934.15 762.1,955.25 749.5,962.85" fill="#565d86" stroke="#1f1c22" stroke-width="1.4" stroke-linejoin="round"/>
<polygon points="738.32,957.1 749.5,962.85 749.5,983.95 738.32,978.2" fill="#737ba9" stroke="#1f1c22" stroke-width="1.4" stroke-linejoin="round"/>
<polygon points="749.5,962.85 762.1,955.25 762.1,976.35 749.5,983.95" fill="#5a618a" stroke="#1f1c22" stroke-width="1.4" stroke-linejoin="round"/>
<polygon points="797.9,861.5 785.5,868.7 797,875 809.4,867.8" fill="#6670a2" stroke="#1f1c22" stroke-width="1.4" stroke-linejoin="round"/>
<polygon points="785.5,868.7 797,875 797,893.5 785.5,887.2" fill="#5e6699" stroke="#1f1c22" stroke-width="1.4" stroke-linejoin="round"/>
<polygon points="785.5,887.2 797,893.5 797,912 785.5,905.7" fill="#484c88" stroke="#1f1c22" stroke-width="1.4" stroke-linejoin="round"/>
<polygon points="809.4,867.8 797,875 808.5,881.3 820.9,874.1" fill="#7880b0" stroke="#1f1c22" stroke-width="1.4" stroke-linejoin="round"/>
<polygon points="797,875 808.5,881.3 808.5,899.8 797,893.5" fill="#6a72a3" stroke="#1f1c22" stroke-width="1.4" stroke-linejoin="round"/>
<polygon points="797,893.5 808.5,899.8 808.5,918.3 797,912" fill="#565c94" stroke="#1f1c22" stroke-width="1.4" stroke-linejoin="round"/>
<polygon points="820.9,855.6 808.5,862.8 820,869.1 832.4,861.9" fill="#9ba7cc" stroke="#1f1c22" stroke-width="1.4" stroke-linejoin="round"/>
<polygon points="808.5,862.8 820,869.1 820,887.6 808.5,881.3" fill="#8e99be" stroke="#1f1c22" stroke-width="1.4" stroke-linejoin="round"/>
<polygon points="820,869.1 832.4,861.9 832.4,880.4 820,887.6" fill="#747ea1" stroke="#1f1c22" stroke-width="1.4" stroke-linejoin="round"/>
<polygon points="808.5,881.3 820,887.6 820,906.1 808.5,899.8" fill="#454888" stroke="#1f1c22" stroke-width="1.4" stroke-linejoin="round"/>
<polygon points="820,887.6 832.4,880.4 832.4,898.9 820,906.1" fill="#323567" stroke="#1f1c22" stroke-width="1.4" stroke-linejoin="round"/>
<polygon points="808.5,899.8 820,906.1 820,924.6 808.5,918.3" fill="#7a83ad" stroke="#1f1c22" stroke-width="1.4" stroke-linejoin="round"/>
<polygon points="820,906.1 832.4,898.9 832.4,917.4 820,924.6" fill="#61698e" stroke="#1f1c22" stroke-width="1.4" stroke-linejoin="round"/>
<polygon points="808.5,918.3 820,924.6 820,943.1 808.5,936.8" fill="#6a72a3" stroke="#1f1c22" stroke-width="1.4" stroke-linejoin="round"/>
<polygon points="820,924.6 832.4,917.4 832.4,935.9 820,943.1" fill="#525983" stroke="#1f1c22" stroke-width="1.4" stroke-linejoin="round"/>
<polygon points="856.5,865.7 848.2,870.3 857.75,875.4 866.05,870.8" fill="#7880b0" stroke="#1f1c22" stroke-width="1.4" stroke-linejoin="round"/>
<polygon points="848.2,870.3 857.75,875.4 857.75,886.15 848.2,881.05" fill="#6e76a6" stroke="#1f1c22" stroke-width="1.4" stroke-linejoin="round"/>
<polygon points="866.05,870.8 857.75,875.4 867.3,880.5 875.6,875.9" fill="#9ba5ca" stroke="#1f1c22" stroke-width="1.4" stroke-linejoin="round"/>
<polygon points="857.75,875.4 867.3,880.5 867.3,891.25 857.75,886.15" fill="#858fb8" stroke="#1f1c22" stroke-width="1.4" stroke-linejoin="round"/>
<polygon points="875.6,865.15 867.3,869.75 876.85,874.85 885.15,870.25" fill="#4a4f94" stroke="#1f1c22" stroke-width="1.4" stroke-linejoin="round"/>
<polygon points="867.3,869.75 876.85,874.85 876.85,885.6 867.3,880.5" fill="#3e4286" stroke="#1f1c22" stroke-width="1.4" stroke-linejoin="round"/>
<polygon points="876.85,874.85 885.15,870.25 885.15,881 876.85,885.6" fill="#2d3065" stroke="#1f1c22" stroke-width="1.4" stroke-linejoin="round"/>
<polygon points="867.3,880.5 876.85,885.6 876.85,896.35 867.3,891.25" fill="#a9b8d3" stroke="#1f1c22" stroke-width="1.4" stroke-linejoin="round"/>
<polygon points="876.85,885.6 885.15,881 885.15,891.75 876.85,896.35" fill="#909dba" stroke="#1f1c22" stroke-width="1.4" stroke-linejoin="round"/>
<polygon points="867.3,891.25 876.85,896.35 876.85,907.1 867.3,902" fill="#6a72a3" stroke="#1f1c22" stroke-width="1.4" stroke-linejoin="round"/>
<polygon points="876.85,896.35 885.15,891.75 885.15,902.5 876.85,907.1" fill="#525983" stroke="#1f1c22" stroke-width="1.4" stroke-linejoin="round"/>
<path d="M332.7 697.5L332.7 709.5M332.7 717.5L332.7 732.9M332.7 740.9L332.7 756.3M332.7 764.3L332.7 779.7M332.7 787.7L332.7 803.1M332.7 811.1L332.7 826.5M332.7 834.5L332.7 849.9M332.7 857.9L332.7 873.3M332.7 881.3L332.7 896.7M332.7 904.7L332.7 920.1M332.7 928.1L332.7 943.5M332.7 951.5L332.7 966.9M332.7 974.9L332.7 990.3M332.7 998.3L332.7 1013.7M332.7 1021.7L332.7 1037.1M332.7 1045.1L332.7 1060.5M332.7 1068.5L332.7 1083.9M332.7 1091.9L332.7 1107.3M332.7 1115.3L332.7 1130.7M332.7 1138.7L332.7 1154.1M332.7 1162.1L332.7 1177.5M332.7 1185.5L332.7 1200.9M332.7 1208.4L332.7 1235" fill="none" stroke="#231f20" stroke-width="1.45"/>
<path d="M127.5 846.2L137.62 838.86M157.59 824.37L178.64 809.11M199.36 794.08L220.4 778.81M241.13 763.78L262.17 748.51M282.9 733.48L303.94 718.21M324.66 703.18L339.79 692.22" fill="none" stroke="#231f20" stroke-width="1.45"/>
<path d="M127.5 846.2L131.68 854.17M138.28 866.78L145.47 880.51M151.77 892.53L158.96 906.26M165.26 918.28L172.45 932.01M178.75 944.03L185.94 957.76M192.23 969.79L199.43 983.52M205.72 995.54L212.91 1009.27M219.21 1021.29L226.4 1035.02M232.7 1047.04L239.89 1060.77M246.19 1072.79L253.38 1086.52M259.68 1098.54L266.87 1112.27M273.16 1124.29L280.36 1138.02M286.65 1150.04L293.84 1163.78M300.14 1175.8L307.33 1189.53M313.63 1201.55L320.82 1215.28" fill="none" stroke="#231f20" stroke-width="1.45"/>
<path d="M328.2 1228.6L333 1235.2L339 1231.2" fill="none" stroke="#231f20" stroke-width="1.45"/>
<text x="259" y="696.3" font-size="25">7</text>
<text x="378" y="1237" font-size="25">6</text>
<text x="496.3" y="781.3" font-size="25">5</text>
<text x="649" y="812.5" font-size="25">4</text>
<text x="741" y="830" font-size="25">3</text>
<text x="807.5" y="842.4" font-size="25">2</text>
<text x="865.5" y="852.4" font-size="25">1</text>
<rect x="116.1" y="1068.4" width="22.2" height="205.8" fill="url(#cbar)" stroke="#333" stroke-width="1.2"/>
<line x1="110.5" y1="1077.8" x2="116.1" y2="1077.8" stroke="#333" stroke-width="1.2"/>
<text x="99.6" y="1085.3" font-size="23" text-anchor="end" textLength="45.5" lengthAdjust="spacingAndGlyphs">1.60</text>
<line x1="110.5" y1="1142" x2="116.1" y2="1142" stroke="#333" stroke-width="1.2"/>
<text x="99.6" y="1149.5" font-size="23" text-anchor="end" textLength="45.5" lengthAdjust="spacingAndGlyphs">1.40</text>
<line x1="110.5" y1="1206.2" x2="116.1" y2="1206.2" stroke="#333" stroke-width="1.2"/>
<text x="99.6" y="1213.7" font-size="23" text-anchor="end" textLength="45.5" lengthAdjust="spacingAndGlyphs">1.20</text>
<line x1="110.5" y1="1270.6" x2="116.1" y2="1270.6" stroke="#333" stroke-width="1.2"/>
<text x="99.6" y="1278.1" font-size="23" text-anchor="end" textLength="45.5" lengthAdjust="spacingAndGlyphs">1.00</text>
<text x="123.5" y="1308.4" font-size="25" text-anchor="middle" textLength="190" lengthAdjust="spacingAndGlyphs">Error per SU(4)</text>
<text x="123.6" y="1339.7" font-size="25" text-anchor="middle" textLength="102.5" lengthAdjust="spacingAndGlyphs">gate (%)</text>
<polygon points="665.5,1162.8 779.8,1089.3 779.8,1162.7" fill="url(#tu1)"/>
<polygon points="779.8,1089.3 898,1162.6 779.8,1162.7" fill="url(#tu2)"/>
<polygon points="665.5,1162.8 779.8,1162.7 779.8,1327.2" fill="#cfe3ed"/>
<polygon points="779.8,1162.7 898,1162.6 779.8,1327.2" fill="url(#tl2)"/>
<line x1="691.25" y1="1162.8" x2="895" y2="1162.6" stroke="#5a646b" stroke-width="1.1" stroke-dasharray="7 21.9"/>
<line x1="779.8" y1="1089.3" x2="779.8" y2="1327.2" stroke="#55646e" stroke-width="1.3"/>
<polyline points="779.8,1089.3 665.5,1162.8 779.8,1327.2" fill="none" stroke="#1f1f24" stroke-width="1.35" stroke-linejoin="round"/>
<polyline points="779.8,1089.3 898,1162.6 779.8,1327.2" fill="none" stroke="#2d3a45" stroke-width="1.25" stroke-linejoin="round"/>
<circle cx="665.5" cy="1162.8" r="2.9" fill="#14161a"/>
<circle cx="779.8" cy="1089.3" r="2.9" fill="#14161a"/>
<circle cx="779.8" cy="1327.2" r="2.9" fill="#14161a"/>
<circle cx="898" cy="1162.6" r="2.9" fill="#14161a"/>
<text x="760" y="1077.8" font-size="25" textLength="76" lengthAdjust="spacingAndGlyphs">SWAP</text>
<text x="578" y="1172.3" font-size="25" textLength="73" lengthAdjust="spacingAndGlyphs">CNOT</text>
<text x="911" y="1167.8" font-size="25" textLength="96" lengthAdjust="spacingAndGlyphs">Identity</text>
<text x="782" y="1357.3" font-size="25" textLength="85" lengthAdjust="spacingAndGlyphs">SWAP<tspan dy="-8" font-size="15">&#8224;</tspan></text>
<line x1="990.2" y1="1279.8" x2="990.2" y2="1224.7" stroke="#231f20" stroke-width="1.9"/>
<polygon points="990.2,1216.6 995.2,1228.2 990.2,1225.2 985.2,1228.2" fill="#231f20"/>
<line x1="990.2" y1="1279.8" x2="929.5" y2="1279.8" stroke="#231f20" stroke-width="1.9"/>
<polygon points="921.4,1279.8 933,1274.8 930,1279.8 933,1284.8" fill="#231f20"/>
<line x1="990.2" y1="1279.8" x2="1032.24" y2="1302.02" stroke="#231f20" stroke-width="1.9"/>
<polygon points="1039.4,1305.8 1026.81,1304.8 1031.8,1301.78 1031.48,1295.96" fill="#231f20"/>
<circle cx="990.2" cy="1279.8" r="0.95" fill="#231f20"/>
<text x="1001.6" y="1227.2" font-size="24" textLength="12.6" lengthAdjust="spacingAndGlyphs" font-style="italic">c</text>
<text x="925.2" y="1265.5" font-size="24" textLength="13" lengthAdjust="spacingAndGlyphs" font-style="italic">a</text>
<text x="1038" y="1292.2" font-size="24" textLength="14" lengthAdjust="spacingAndGlyphs" font-style="italic">b</text>
</svg>
</body></html>
